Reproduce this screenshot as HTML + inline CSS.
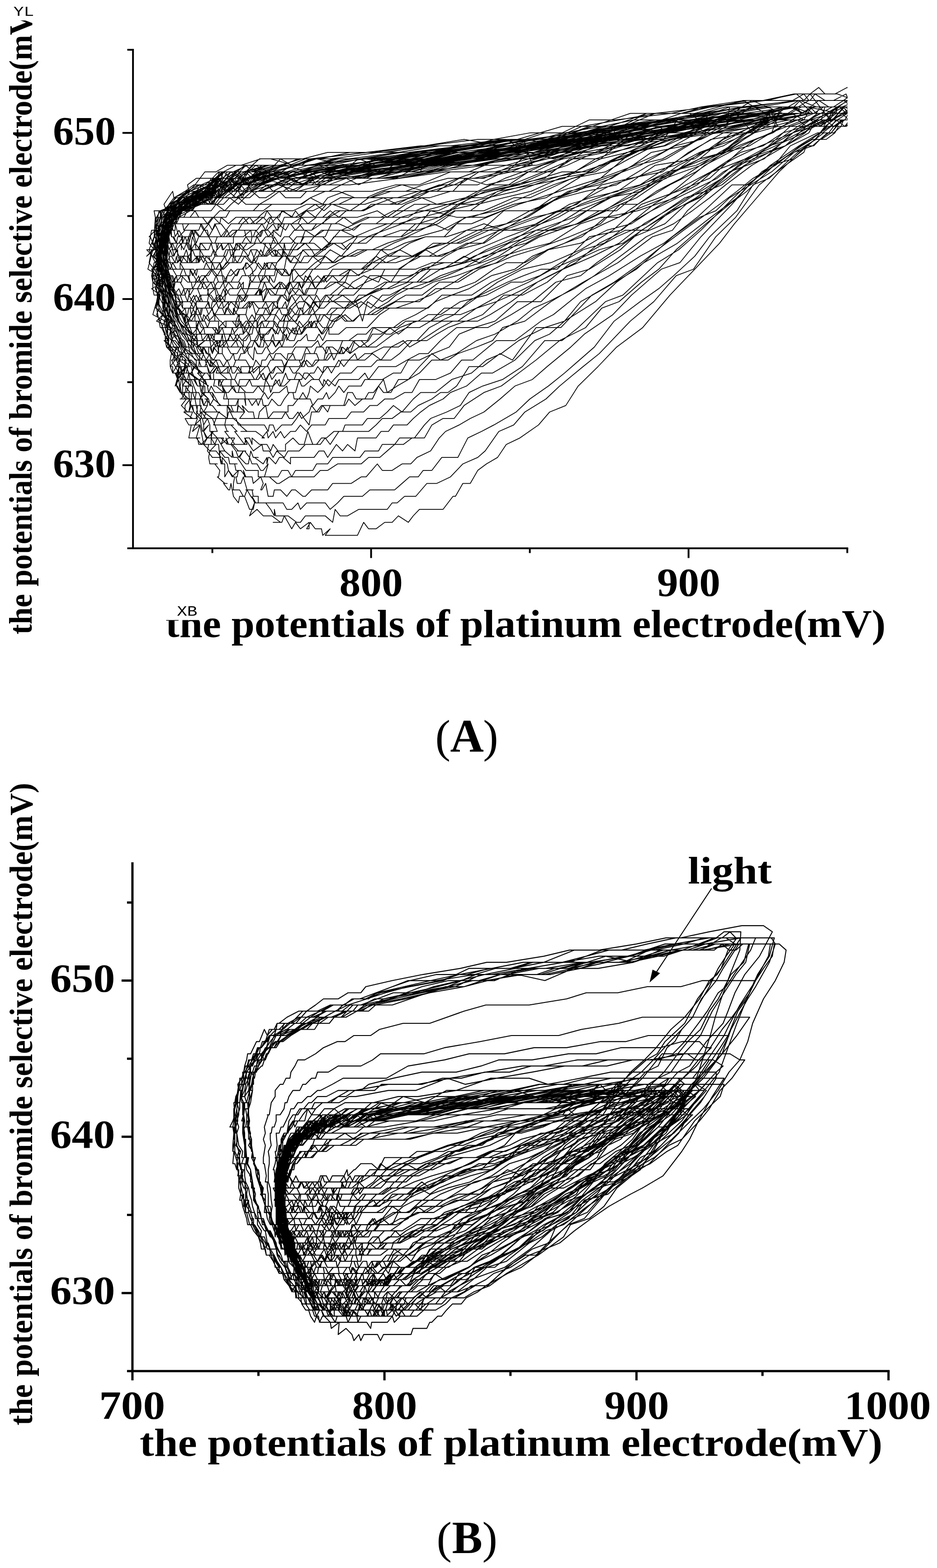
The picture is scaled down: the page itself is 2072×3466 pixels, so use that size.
<!DOCTYPE html>
<html lang="en"><head><meta charset="utf-8"><title>Figure</title>
<style>html,body{margin:0;padding:0;background:#fff}svg{display:block}</style></head>
<body>
<svg width="2072" height="3466" viewBox="0 0 2072 3466" role="img" aria-label="Phase portraits (A) and (B)">
<rect width="2072" height="3466" fill="#fff"/>
<defs>
<clipPath id="ca"><rect x="294.1" y="110.1" width="1580.1" height="1101.9"/></clipPath>
<clipPath id="cb"><rect x="292.9" y="1908.6" width="1671.9" height="1122.2"/></clipPath>
</defs>
<g clip-path="url(#ca)"><path transform="matrix(2.74219,0,0,-14.34766,-4795.400,24168.250)" d="M2442 1668h-7h-10l-4-1h-9h-7h-7h-6h-24l-30-1h-18l-38-1l-17-1l-24-1l-23-1h-18l-33-1l-22-1l-38-1h-22l-46-1h-34h-9l-16-1h-10l-14-1h-3h-4h-8h-5h-3h-8l-3-1h-14l-6-1h-5h1l-6-1h-1l-9-1h-4v-1h-4l3-2h-2h1l-1-1l-3-2h-5l10-2v-2h-6l7-2l-2-1v-1l1-1l-2-1l3-1l2-1l2-1h-1l4-1l-2-1h2l2-1l-1-1v-1h2v-1h2h2v-1l-1-1h1l2-1l-3 1l7-2h2h-1l-4-1l5-1h-3l7-1h-6l3-1h5h-3l-2-2h5h4h-2l1-1h4l5-1l-1-1l1-1h6h-3h1l4-1l-1-1h-1l6-1h2h-3l4-1h1l1 1l1-1l1-1l4-1l1 1h4l4-2h3l1 1l-4-2l6 1l5-1h4h-1h4l7-1h-6h7l2 1l3-1l3-1l3 1l4-1l7 1v-1h-2l3 1l4-1h5h-3h3l1-1l6 1l-4-1h5h-1h5h5h7h5l5 2l4-1h6l7 1h6l5 1l8-1l4 1l5 1h7h7h5l8 2h2l6 2h6l6 2l7 1l9 1l7 2l11 1l15 2l9 2l13 1l10 3l16 3l15 3l21 3l22 5l20 4l20 4l12 3l18 4l18 4l22 4h6l5 1l7 1l4 1l8 1h6l7 1l10 1l-11-2h-3h-8h-2l-7-1l-7 1h-7l-5-1h-10h-30l-41-1l-43-1l-27-1l-17-1h-25l-19-1l-42-2h-39l-38-1l-40-1h-22l-20-1l-16 1l-15-1h-9l-9-1h-6h-8l-4-1h-12h-7l-9-1l-5 1l-3-1h-8l-3-1l-1-1l1-1h-4l-2-2l4-1l-6-1l5 1l-4-3l9-1l4-1l-10-1l7-1l-3-2l1-1l2-2h4l2-1l-2-1l1-1l5-1l2-1l-4-1l2-1l3 1h3l-3-1l1-1l-2 1l5-1l-1-1l1-1l6-1h1l-4-1v-1h6l-2-1h1h5l-4-2l6 1l-3-2l4-1l5 1l-3-1h2h2l-1-1l4-1h6l1-1h3v-2l3 1l4-1h1l-1-1v-1h-1h6l3-1h1l2 1l3-1l4-1l-3 1l2-1h3h6l4-1l3-1v1l1-1h3h7h-2h2l7-1h3l4 1h4h6h6l6-1l2 2l4-1h6l9 1h3h6h8h6l4 1h4l6 1h9l9 2h8l11 1l10 2l12 1l6 1l11 3l12 1l9 2l17 2l11 2l19 3l13 2l25 5l19 3l18 4l14 1l18 5l16 3l19 5l21 3l15 2l2 1l7 1h4l6 1h5l6 1l2 1h10h5l8 2h-12l-8-1h-4h-6h-10h-7h-9h-8l-26-1l-22-1h-44l-34-2l-28-1h-17l-34-1h-22l-22-1l-26-1h-36l-41-1l-25-1h-19l-13-1l-19 1l-12-1h-4l-7-1h-5h-9l-13-1h-5l-8-1h-5l-12-1l2-1h-8v-1l1-2l-2-2h2l-3-1l7-1l-7-1v-3l1-1h4l-2-2l5-1l-2-1l4-2v-1l5-1h-4h1l6-1l-2-1h3l2-1l-1-1h-2h3l-3-2l3 1l1-2h1h2l2-1h-5h9l-2-2l2 1l2-1l5-1h1l-5-1h4l1-1l2-2h3h1h6l-5-1h3h2l4-1h-1l2-1v1l4-1l1-1l3-1l5 1l-1-1h-1l1-1h3l2 1l3-2h-1h6h-1l1-1h4v-1h9h1h3h-1h8l3-1h4l5 1l2-1l5 1h7h3h5l4-1l6 1l5 1h6h3h6l6 1h6h9h5l6 1l6 1h7l4 1h7l8 2h13l8 3l11 1l10 1l18 2l11 2l15 2l13 2l24 4l16 4l21 3l15 2l12 2l17 3l12 3l22 4l13 4l13 1l23 4l21 3h6l8 2h5l8 2l8-1l4 1l-13 2l-7 1l-10-1h-7h-10h-8h-8l-21-1h-19l-35-1l-24-1l-45-1h-21l-22-2h-26l-29-1l-19-1h-31l-39-1h-27l-24-1h-8h-10l-12-1h-12h-8h-9l-10-1h-3h-7l-6-1h-12h-3l-7-1l1-1l-12-1l-1 1l-7-2l2-1h-10l1-1l-1-3l5-1l-2-1v-2l-4-1h6l-5-2l3-1h2l-1-2v-1l3-1l-5-1l12-1l-3-2l1-1h6l-2-1l2-1l1 1l2-2h-4h8l-3-1l-3-1l4 1l3-1l-3-1h3l-1-1l-3-1h5h1l2-1h5l-1-2l4 1v-1h-1l1-1l1-1l5 1l-4-1l2-1h4v-1h6h-4h4l1-2v1l4-1h2h1l1-1h6h-2l1-1h4l4-1l-2 1l1-1h6l1-1l6 1l2-1l-2-1h1l3 1l2-2h4l1 1h5l5-1l4 1h3l6-1h2l5 1h5h8l4 1h6h4h5l8 1h4l9 2l4-1h8l8 1h7l5 1l11 1l7 2l5 1l11 1l9 1l11 1l13 2l12 2l14 1l12 2l19 3l11 2l23 3l15 3l24 4l15 1l17 4l25 5l14 3l17 3l23 3l25 3l6 1l8 1h8l9 1h3h-11h-4l-6-1l-5 1l-9-1h-10l-5 1l-4-1h-5l-31-1l-25-1h-36l-23-1l-44-1l-43-2h-16h-27l-34-1l-34-1l-39-1l-32-1h-9h-10l-16 1l-19-1h-8l-3-1h-5l-7-1h-4h-7l-10-1h-11h-7h-3l-7-2h-4l-1-1l-4-2l-1-1l-4-2l5-2h-1l-2-2l1-1l5-1l-2-2l-3-2l10-1l-3-1l5-2l2-1l1 1l-1-1l1-1l5-1h-5l6-2v1v-1l-1-1l4 1v-1v-1h2h-2v-1h5l1-2h2l1-1l-2 1h4l1-1h-1l5-1l1-1v-1l3-1l5 1h-2v-1l3-1l2 1l6-2h-4h4l6-1v1l1-1h1h2l7-2h3h-2h5h1h3v-1h5h1h3l6-1h2l8 1h3h3h2h4h6h2l5 1h3h3l8 1h7h5h7l6 1h3h6l6 1l6 1h7l7 1h10l6 2l9 1h9l8 2l16 2l14 1l14 2l14 2l19 3l21 2l13 3l14 1l18 3l14 2l14 3l24 4l19 3l14 2l22 4l13 3l22 2h4l7 1l4 1l7-1l4 1l9 1l9 1l-12-1h-9l-12-1l-4 1h-7l-7-1h-10h-24l-44-2h-21l-19-1h-23l-45-1l-38-2h-27l-39-1l-20-1l-35-1h-21h-33l-10-1l-7 1l-8-1h-18l-8-1h-4h-8h-8l-7-1h-12l-7-1h-2l-11-1h-8h-7l-2-2v-3h-4l5-1l3-2l-3-1l2-2l-2-1l5-1v-1l-1-2l7-1l-5-1h4l2-2l4-1l-3-1l5-1l-2-1h1v-1l6 1l-2-1v-1l6-1h-5l4-1h2l2-1h4v-1l3-1h-2l4-1h-3l1-1l3 1l2-1v-1h1l5-1h2h-1h2l5-1l-1 1l2-1h2l4-1l2-1l4 1l-3-1l5-1h2l1 1l2-1h3h1l3-1h2l4 1l-3-2h5h2h4l3 1h5l3-1l3 1h5h4h5l3 1h6h3l4 1h4h8h7h3l4 1h4h7l3 1h3h7l4 1h4h8l8 2l5 1l13 1l11 1l7 2l11 1l16 1l16 2l18 4h14l13 2l22 4l14 1l28 5l17 2l18 3l21 4l16 3l15 2l14 2l15 2l9 1h7l8 1l9 2h9h4h8l3 2l-13-1l-9 1l-5-1h-5h-12h-6h-10h-5h-22l-28-1l-35-2l-30-1h-37l-35-2l-22-1h-38l-23-1h-20l-46-1l-18-1h-29l-9-1l-14 1h-12l-12-1h-8h-5l-3-1h-9h-4h-7l-8-1l-11-1h-11l-13-1l1-1v-1l-10-2h1l4-2h-3l-2-2l8-2l-3-2l3-1l-3-2h1l9-2v-2l1-1h-4l11-2l1-1l-2-1h4v-1h-2l3-1h-2h7v-1l-2-1h4v-1h3l1-1h4l-1-1h5l-2-1h1h6l4-2h-4l-1-1h8h2l-2-1l6 1h2l3-1h-2l5-1h-1h7h-1l4-1l1 1l2-1h4h-3l7-1l3 1v-1l1 1h1l5-1l3 1h3l6-1v1h5h4h5h5l4 1h4l3-1l7 2l5-1l4 1l6-1l2 2h4h4h7l4 1h6l4 1h5h6l5 1l6 1l7 1l11 1l6 1l13 1l12 2h9l18 2l16 3l12 1l12 2l25 3l17 3l22 3l27 3l27 4l21 3l20 4l17 2l27 3l3 1l6 1h6l8 1l3 1l8-1h6l5 2l-11 1l-9-1h-7h-4h-11l-3-1h-8h-6h-37l-45-1l-21-2h-23l-32-1l-42-1l-30-1l-40-1l-44-1l-46-1h-16h-13h-14l-14-1h-18h-9l-9-1h-5h-8h-4l-7-1l-7-1h-14l-10-1l-3-1l-3-1v-1l-3-1v-2l-3-2l4-1l3-2l-3-1l-3-1l5-2l3-1l2-1l-3-1l2-2l4-1l2-1h4l-2-2l3 1v-1h4l-1-2h2h-1h3l2-2l-5 1l5-1h1v-1h4h1l4-2h3l-3-1h2h4h1h5l-4-2h5h-2h6l2-1h-1h2h-3l4-1h4l-3-1h7h3h3l-2 1l7-2l7 1l1-1h4h-1h2l3-1l3 1l6-1l3 1h3h6l5 1h3h4h5l4 1l4-1l7 2h6h6h7h5l6 1l5 1h8l7 1h8l6 1l11 1l7 1h6l7 1l10 3h11l14 2l10-1l19 5h20l25 5l18 2l22 3l13 2l21 3l22 3l21 3l13 2l18 2l20 3l9 1l7 1l4 1l7 1l7 1l5-1l6 1h9l4 1l-11-2h-7h-5h-7h-9h-5l-9-1l-7 1l-42-2h-22l-38-1l-41-1l-31-1l-37-2h-41l-40-1l-30-1h-42l-42-1h-17l-9-1h-20l-4-1h-7l-5-1h-13l-9 1l-11-2h-6l-5-2l-4-1l-3-1l-1-1l3-1l2-3l-1-2l-2-1h1l1-2l5-2l2-1l1-2l1-2h2l2-1l5-1h-1l2-2l4 1l-4-1h6l-1-1h5h-7h5l2-1l2-1l-1-1h6l1-1l3 1v-1l-3-1l7-1h3h-1h4h5l-1-1h7h-2l5-1h-2l4-1l4-1l1 1h3l2-1v1l6-1h2h4l3-1l2 1l4-1h6v1l6 1l5-1h4l3 2l4-2h3l4 1h4l6 1h3h4l2 1h7h7l4 1h7h3l6 1l5 1l7-1l9 2l6 1h12l13 2l16 1l12 2l12 1l14 2l21 2l16 1l13 3l19 2l26 3l29 5l22 3l13 1l11 2l17 2l17 2l18 3l15 1l6 1h5l7 1l3 1h6l10 1h8l3 2l-10-1h-9h-10h-8h-5l-9-1h-4l-10 1l-26-1l-16-1l-43-1h-29l-39-2l-39-2l-20 1l-18-1l-27-1l-40-1l-32-1h-20h-28h-16h-7l-15-1h-15l-7-1h-7h-7h-4l-7-1l-4 1l-4-2l-12 1h-5l-7-2l-7-1h-5l-1-1v-1l-2-1l1-2l-2-2h-1l-1-3l6-1l-1-1v-2l2-1l3-1l2-3h3l4-1h-2l2-1l5-1h-2l5-1h-2l-1-1h5l2-1l2-1h2h4v-1l-4-1l2 1l5-1h-3h1l4-1h1l4-1h2h-1l7-1h-2h9h-2l6-1h-1l6-1h-5h8h2h2l7-1h-2l4 1l1-1l4 1l2-1l4 1l3-1l5 1h4l4 1l5-1l4 1h2h5h4l3 1h6h1h7l4 1h6h4l5 1h6l6 1h7l9 1h6l6 2h5h8l12 1l9 2h9l19 3h15l21 3l10 1l26 4l19 2l25 3l19 2l27 4l28 5h13l19 3l17 1l18 3l9 2h5h5h5l8 1h6l8 2l-13 1h-6l-2 1l-10-1h-7l-8 1l-4-1h-9l-46-1l-25-1h-24l-31-2h-32l-34-2h-37l-24-1l-31-1l-25-1h-36h-16l-32-1h-15h-19l-19-1h-8l-5-1h-6h-3h-4l-7-1h-9l-7-1l-9-1l-4-1l-3-2l-4-2l-3-1l1-2l3-2l-8-1l5-3h2l4-1l-1-2l4-3h2l5-2l4-2h-1l1-1h3l-1-1h1l2-1l7-1h-3l3-1h3l-2 1l2-2l1 1l-1-1l6-1l1-1l3 1l6-1h-3h8v-2l1 1h3l-4 1l5-2h2l2-1h2h3h6h3h1h2h4l3-1l1 1h3l2-1l5 1h4h4l4 1l3 1l3-1l4-1l2 2h6l3 1l4-1l2 1h3h4h5l3 1l5-1l6 1h4h4l5 2l4-1h6l6 2h8l9 1l10 2h13l8 1l15 1l13 1l8 2l18 1l21 3l26 3l28 3l28 4l16 1l12 3l18 3l28 4l20 2l14 2l30 3h6l9 1l8 1h6h10l-13 1h-9h-8h-11h-10h-8l-31-1l-33-1l-23-1h-29l-33-1l-27-1l-43-1l-28-1l-42-1l-39-1l-43-1h-32h-10l-19-1h-18h-4l-5-1h-8h-7l-5-2h-14l-7-1l-8-2l-2-1h-6l-4-2l2-2v-3l-3-1l4-2l4-2l2-1v-2l1-2l7-1l-3-1l2-1l7-1l-3-1l7-1l2 1l2-2h-2l7-1h-3h-1h8v-1l-1-1h5h3h-2l3-1l-1 1l6-2h3h4h1h1l2-1h-1h8h2l-4-1h7h2h3h2h3h4h2h3h4h4l3 1l3-1h3l4 1l3-1l6 1l2 1l4-1l4 1h3h4h3h5h3l3 2h4l3-1h3h4l3 1h4l8 2l3-2l8 1l9 1l9 2l10 2l7-1l13 1l16 2l15 1l18 2l13 2l12 1l21 2l16 2l28 4l14 2l22 2l15 2l14 2l13 2l21 3l27 3l19 2l6 2l3-1l8 1l3 1h7l8 1h4h12l-11 2h-5l-7-1h-6h-5h-8h-5h-5h-5h-5l-37-1l-41-1l-27-1l-37-1h-24l-29-2l-22-1h-29l-33-1h-38l-34-1h-21l-19-1h-9h-18l-19-1l-6 1l-5-1h-5h-9l-4-1l-5-1h-5l-12-1l-7-1l-8-2l-7-1l-4-2l3-1l-1-2l-4-2l5-1l-3-2l5-1l4-2l-2-1l2-2h5l-1-2l8-1l2-1l-3-1l5-1h-1l5-1l-2-1l3 1l6-1h-4l5-1h-4l8-1h-1l1-1l2 1l3-1h8l-1-1h4v-1h6l2 1l-1-2l1 1l5-1l-2 1l5-1h4l1-1h3l1 1l5 1l2-2l4 1h5h4h3v1h4l4 1h4h3h3l2-1l4 1h4l3 1l2-1l5 1l3 1l4-1l4 1h5h5l3 1h5h4h5l9 1h6l6 2h9l11 1l13 1l8 2l13 1h10l19 2l17 2l19 3l20 1l13 2l30 4l25 2l17 3l19 2l23 4l13 1l29 5l32 2l7 1l7 1l20-1h-22h-5h-6h-7h-6h-4h-7l-9-1h-27l-27-1l-41-2h-44l-24-1h-22l-45-2l-39-1h-30l-30-1h-16l-23-1h-6h-16h-19l-18-1h-13l-6-1l-4 1l-6-1h-8l-4-2l-10 1l-8-1l-9-1l-8-2l-2-2l-3-2l-1-3h1l2-2v-3l5-2v-1l7-2h-1l7-3h-3l3-1l3-1h2l5-1h-4l8-1h2l-4-1h5h-1h8l-1-1h2l6-1l-1 1l3-1l1-1h5h1h2h2h1h3h3l3-1l4 1h1h3l1-1h4l3 1l5-1h2l3 1l4 1h3l1-1h4l3 1l3-1l2 1l1 1l6-1l5 1l3 1l6-1l3 1h4h1h6h2h3l5 1l3-1l8 2h7h7l9 1l10 1h7l10 2l13 2h14l17 1l18 3h19l21 4l18 1l25 3l17 3l17 2l27 3l21 3l22 3l17 2l18 2l22 2l7 1l7 1h8h20h-22h-5h-8l-8 1l-7-1h-9l-30-1l-31-1l-46-2l-28 1l-34-1l-41-2l-24-1h-17h-34l-22-1l-47-1l-45-1h-9h-18l-18-2h-8h-2h-8l-7 1l-4-2h-7l-9-1h-6h-7l-11-2l-3-2l-3-3l1-2l5-2l-2-2l3-3l1-1l5-2l1-1l4-1l5-2l1-1h3l6-1v-1l3-1l6-2l-2 1h5h6v-1l1 1l2-1l2-1h3l4 1l2-1h7l1-2l-1 1h2h3h2h2l2-1l2 1l3 1l3-1l4 1h3h2l6 1l1-1h6l3 2l2-1h2l6 1h1h5l3-1l1 1l4-1l4 1l5 1h3h4h2l5 1h5h6l5 1h4h7l7 1l10 2h7h5l8 1l9 1l14 1h10l10 1l17 2l21 3l21 2l24 2l21 2l20 3l18 2l26 3l20 3l30 3l30 4l28 3h8l12 1h-4h-3l-9-1h-10h-8h-9h-8l-28-1h-15l-31-2l-26 1l-36-1l-46-2h-15l-20-1h-20l-21-1l-26-1l-28-1h-23h-30l-35-1h-13h-20l-7-1h-7h-7h-6h-6l-12-2l-8-1h-8l-7-1l-8-2l-3-2l-2-3l1-2l-2-2l5-1l2-2v-2l3-2l4-2l8-2l5-1v-1l6-1h1l1-1h3h4l3-1l-1 1v-1h11l-3-1h4h4h1l4-1h2l1 1l5-1h2h2h2l4 1l4-1l2 2l3-1l1-1l2 1l2 1l3-1h4l5 1h2h7l2 1h3l5-1h4l3 1l4 1l3-1l6 2l4-1l4 1h3h2h4h4l6 1l7-1l8 2l10 1l5-1l9 1l8 1l8 1l10 1h11l13 1l17 3h15l20 2l19 3l23 2l19 1l23 3l31 4l26 3l20 3l23 2l23 2l6 1l12 1l6 1l4 1h9l7 1l11-1h-16h-5h-6h-8h-6h-5l-11-1l-4 1h-26l-28-1l-17-1l-39-1h-25l-36-2h-24l-38-2h-34l-19-1l-25-1h-40h-35l-13-1h-17l-18-1l-8 1l-3-1l-5-1h-6l-3 1l-5-1h-9l-3-1l-11-1l-12-1l-8-1l-3-2l-3-2l1-1l-1-1l-1-2l2-2v-1l3-3l3-1l1-1l5-2l6-1l3-1l2-2h3h5l-1-2h7l1-1h3l4 1l-3-1v-1h6h-2h6h4v-1h4h2h4h2l3 1l2-1h3h2h6h1h4h1l5 1l1-1l4 2l2-1h5l2 1h2l5-1l4 1h3l3 1l4-1l1 1h5h2h5l2 1h2h4l5 1l2-1l6 1h5l10 1h3h9l7 1h8l10 2l10 1h13l15 2l16 1l12 1l11 1l20 2l21 2l19 3l21 2h18l19 3l23 2l24 4l28 2l23 4l32 2l9 2l4-1h4l15 1l-28 2h-10l-5 1l-7-1h-8h-5l-25-1l-47-1l-19-1h-41l-46-3h-23l-16-1h-38l-42-1l-31-1h-16l-44-1l-15-1l-19 1h-9l-6-1h-6h-8h-3h-3l-9-1h-2h-7l-8-2l-5-1l-7-1l-7-1l-6-2l-2-3l-5-3h1l2-3v-1l3-3l5-2l5-2l4-2l2-1l8-1h-1l3-1h6h1h1l4-2l4 1h1l3-1l6-1h2h2h2l3-1l1 1h6h1h3h4h1l4 1l2-1l3 1l2-1l4 1h5l1 1h3h5h1h3l4 1l3-1h3l3 1h3h3h4l4 1h3h2l3 1l6-1l4 2h5l5-1l7 1l6 1l5 1l7-1l13 2h10h11l11 1l11 2l9 1l15 2l20 2l23 1l24 2l26 3l23 4l29 2l26 2l23 4l14 2l14 1l31 4h8h7h3l8 1l7-1h-12l-7-1h-3h-10h-7h-7h-36l-43-1l-39-2l-18-1h-27l-37-1l-30-1h-20l-34-1l-41-1l-34-1h-33l-20-1h-12h-7h-16l-7-1l-5-1l-6 1l-5-1h-4l-14-1l-10-1l-7-2l-7-1l-1-2v-3v-3l1-2l5-2l2-3l5-1l5-3h3h4l4-1l3-1l2-1h3l2 1l2-1h2h5l-2-1h7h2h-5h7l2-1h2l2 1h3h3h5l3-1h1l3 1l3-1h3l2 1h3l2 1h1l5-1l2 1h3l3-1h2l4 1h3l2 1l5-1l5 1h5l3 1h3h5h4l3 1l2-1l7 1h5h6h3l7 1l7 1l11 1h10l9 1l11 1h13l13 1l19 2l23 2l19 2l24 2l28 3l24 2l31 4l17 1l13 1l25 4l26 2l17 3h10h4l6 2l10 1l7-2l16 2h-29h-10l-8-1h-8l-10 1l-38-1l-45-1l-31-1l-22-1l-39-1l-34-1l-46-1l-39-2h-19h-44l-18-1h-13h-10l-8-1h-9h-11h-12h-6h-9l-3-1h-9l-5-1h-11l-11-2l-6-2l-3-2h-5l-1-2l-1-2l3-2l2-3l3-1l3-2l5-3l5-2h5v-1l2-1l5-1h3l4-1l-1 1l5-1h-4l4 1l4-2l6 1l-1-1h1l2 1l1-1h2l3 1l3-1h1h4l2 1h1l1-1l5 1v-1l5 1h2l2-1l4 1h1h3h4l2 1h2h4h3l2-1l2 1l1 1h4h5l2-1h4l2 2h5l6-1l1 1l1-1l6 1l3 1h5h6l5 2l10-1h4l7 1l14 1h11l11 2h14l15 2l22 2l13 1l14 1h13l26 5l26 1l26 4l26 3l20 2l24 3l18 1l16 2l18 1l9 1l8 1h8l1 1l-9-1h-8h-12h-6l-21-1h-44l-42-2l-32-1l-41-1l-30-1l-38-1h-16l-31-1h-17l-33-1h-35l-21-1h-21l-9-1h-9h-9l-6-1h-3h-7l-8-1l-11-1l-12-1h-6l-6-2l-3-2v-1v-3l2-2l4-3l2-2l5-3l4-1l8-2v1l4-1l2-1h4l-2-1h3h4l3-1h2h5h4h2h3h1h1l4-1v1h5h2v-1l6 1h3h2h3l3 1h4h3h2l2-1l3 1l4 1l2-1h2h3l4 2l3-1h3l2 1h5l3-1l2 1l4-2l5 2l2 1h4h4l6-1l7 1l3 1h7l8 1h5l7 1h10l8 1h10l16 2l21 1l20 2h9l14 1l17 2l18 2l17 1l20 3l18 2l21 2l32 3l13 2l29 3l17 1l30 3l7 1h4l25 1h-42h-3l-13 1l-5-1l-28-1h-31l-36-1l-22-1l-40-1l-15-1l-20-1l-23 1l-22-1l-20-1l-31-1l-42-1l-37-1l-12 1l-18-1h-14h-14l-12-2l-5 1h-4l-7-1l-4 1l-7-1l-9-2l-10 1l-10-1l-5-1l-7-2l-3-3l-4-1l2-3l2-2l2-2l2-3l6-2l5-2h4l7-1l1-1l4-1l-2 1l5-2l3 1l1-1h5h2l3-1l3 1l2-1h3l2 1h2h5h1l3-1h3l2 1l4-1l1 1h3l3 1l3-1l2 1h4l5-1l1 1h3l3 1h4h4h1h4l5 1l2-1l5 1h4h5h2h5h2l7 1h7l5 1h5h12l7 1l11 1l9 1l7 1l13 1l14 1l18 2l19 1l14 2l26 2l32 3l23 2l26 2l32 5l30 3l23 2l27 2l6 2h6h5l-3-2h-9h-6h-5h-44l-34-2l-47-1l-35-1l-28-1l-41-1l-27-1h-21l-18-1h-25l-39-1h-27l-15-1h-11h-9h-20l-6-2l-3 1h-6h-6l-6-1l-5-1h-9l-7-1l-9-1l-9-2l-3-3v-1l2-3l2-3l6-3l1-1l6-1l3-2l10-1h1v-1l1 1l3-1l5-1l3 1h1h3l3-1h3l3 1l1-1h3l2 1h2l3 1l1-1l4-1l1 2l2-1h4l3 1h1l3-1h2l5 1h2h4h4h1l4 1h2l5 1l1-1h4h2l3 1l3-1l5 2v-1h5h3l6 1h4h4h3h6l10 2l8 1h9h7h7h8l11 2h11h13l16 2l22 2l24 3l26 1l21 2l20 1l24 3l29 3l12 2l27 2l16 1l16 1l16 2l5 1h6l9 1l-16 4l-5-1l-6 1l-25-1l-44-1l-23-1h-29l-14-1l-16-1h-22h-16l-36-2l-45-1h-18l-33-1l-40-1h-35l-13-1h-14h-8h-8l-5-1h-7h-3h-7l-8-1l-5-1l-6-1h-9l-7-2l-7-2h-4l-3-3l-1-1l-1-2v-1l5-3l1-2l4-2l4-2l6-2l3-1l3-1h-2l4-1h6l-3 1h3l2-1h2v1h2l1-1l4 2l1-2h3v1h3h1l3-1h1h4l3 1h1l2-1l4 1h2l2 1l3-1h4l1 1l3-1l3 1l3-1l4 1h2l1 1l4-1h4l2 1l2 1l2-1l4 1h2l4 1l3-1l3-1l3 1h5l3 1l5 1l5-1h4l6 1h7h2l9 1l10 1l9 1h13l14 2h15l17 2l14 1l16 2l19 2l30 2l18 2h14l32 5l26 2l27 2l19 3l17 2l26 3l11-2h-9l-6 1l-45-2l-33-1l-41-1l-35-1l-26-1h-19h-38l-37-2l-23-1h-41l-20-1h-23l-21-1h-20h-22l-4-2l-10 1h-6h-2l-3-1l-7-1l-8-1l-9-1l-9-2l-5-1l-2-3l2-1v-3l3-2l3-1l4-4l6-1l3-2h3h2h8l-7-1h5h-2h5h1h2l2-1l1 1l4-1v1h4h3h3h1h3h3h2h3h2h3l2 1l4-1l3 2l1-1h3h2h2l2-1l3 1l2-1l4 2v-1l5 2l2-1h3h1l4 1h3h5h2l4-1l4 1l4 1h3l7 1l6-1l6 1h6l7 1h10h6l15 1l13 1l19 2l16 2l19 1l12 1l17 1l29 2l25 2l16 3h14l26 3l21 2l23 3l20 1l26 3l26 2h18h-9h-5h-4h-7h-7l-42-1l-43-1l-46-2h-17l-40-1l-35-1l-22-1h-19l-30-1l-29-1l-47-1h-19h-8h-21l-15-1h-9h-3h-6l-6-1h-8h-5l-2-2h-13l-5-1h-5l-9-2l-1-1l-3-2l-1-2l2-2v-2l5-3l3-1l3-1l7-3h2h1l3-1v-1l6 1h3h2h1l3-1l3 1v-1l5 1l2-1h2l4 1l2-1h1h6l3 1h2h3l2 1l3-1h3h3l2 1l1-1h2h4l2 2h2l2-1l5 1l2-1h3l2 1l6 1v-1h3l2 1l4-1h3l4 2h6l5-1h7l5 1h6h7l7 1l9 1h12h7l13 2h18l14 1l15 2l10 1h15l18 2l28 2l19 3l26 1l15 1l15 1l21 3l26 3l22 2l26 2l14 2l9-1h4l10 2l-25 1h-8l-33-1h-20l-23-1h-26l-42-2l-28-1l-43-1l-30-1l-33-1l-32-1h-45l-20-1h-9h-8h-8h-10l-15-1h-15l-5 1l-5-1h-4h-2l-10-1l-5-1l-3-1l-11-1h-10l-11-1l-2-3l-2-1l-2-1v-2l3-3l1-1l3-2l3-2l5-2l9-2h1h2l1-1h2h2h3l2 1l2-2l4 1l2-1l2 1l1 1l1-2l3 1h3h3h2h2l3-1v1h2l3 1l1-1h3l3 1l1 1l1-2l4 1l5 1l5-1l2 1h3h3l5-1l2 1l2 1l4-1h3l1 1l2-1l2 1h5l3 1l6-1l8 1l4 1l8 1l5-3l4 3l8-1l9 1l6 1l10 1h10l10 1l19 1l14 1l23 2l17 1l21 1l25 3l16 1h15l30 4l20 2l31 4l18 2l29 3l27 1l-15 1h-26l-34-1l-43-1l-41-2h-17l-30-1l-21-1l-32-1l-44-1h-21l-42-1l-41-1l-18 1l-18-1l-13-1h-5l-7 1l-7-1l-7-1l-2-1h-9l-9-2h-6l-7-1l-2-2l-5-2l-2-3v-1l1-2l4-2l3-2l5-3l6-1l4-1l1-1l2 1h2v1l4-1l1-1l4 1l2-1l2 1l2-1h3h2h3h3l1 1l3-1l3 1l4-1l5 1h3l1 1h2l2-1h4h1h3l3 1l3-1l2 1h1l3-1l3 1l1 1h5l5-1h1l5 1l3 1h2h3h2h5h3l6 1h3h7l9 1l8-1l9 2h6l10 1l9 1h13l14 1l12 1l18 2l17 1l25 3h17l16 1l22 2l25 3l25 2l28 4l18 1l18 2l24 2l12 1l-28-1l-39-1l-35-1l-26-1l-34-1l-32-1l-30-1h-21l-40-1l-42-1l-22-1l-23 1h-9l-12-1h-10l-14-1h-13l-9-1l-4 1l-3-1l-6 1l-7-1h-6l-5-1h-6l-11-1l-6-1l-7-1l-5-1l-4-2l-1-1l1-4l2-1l3-2l1-2l6-2l8-2h2h1l3-1l2-1l3 1h1h3h2h4l3-1l2 2l2-1l3 1l3-2h1l3 1l1 1l4-2l2 1h3l1 1l3-1l2 1h4l2-1l3 2l2-1h3h4l1 1l4-1h3l1 1h3h2h3h1l4 1h4h3l3 1l4-2l2 1h5l4 1h11l4 1l7-1l10 2l9-1l9 1l7 1h6l15 1l10 1l15 1l18 1l14 1l16 2l25 2l23 1l34 3l13 1l23 3l29 2l30 3l27 2l8 4l-16-1h-25l-42-2h-32l-41-2l-20-1h-26h-17l-31-1l-22-1l-26-1l-23 1l-21-1h-31l-17-1h-9h-12l-18-1h-4h-5h-2h-3l-7-1h-7h-2l1-1l-13-1l-7-2h-9l-8-2v-2l-2-2l1-2l-1-1l3-2l1-2l5-2l7-1l-1-1l3-1h2l2-1l4 1l2-1l3 1l1-1h3h2h3h5h4h2h2h2l4 1h2h3h2h1h2h3h3h2h1h3l3 1h3l3-1l2 1h3l3 1l2-1l4 1h3h2h3h3l4 2l5-1l1 1h4h6h1l8-1l8 1l4 1h7l13 1h6l14 1h9l17 2l20 1l17 1l18 2l17 1l23 2l17 2h19l31 3l30 4l30 3l29 3l29 2l17 2l-4 1l-9-1h-17h-19l-29-1l-46-1l-25-2l-31-1l-34-1h-31l-44-1h-24l-44-1l-45-1l-13-1h-13h-15h-5h-5l-11-1h-7l-7-1l-7-1h-7l-10-1l-9-2l-7-2l-2-2l-3-1l-1-2l2-2v-2l3-2l4-2l3-2l4-1h-1l4-1h1l3 1l2-1h2h1h3l1 1l2-1h2h2h4h1l4-1l1 1h3h3h3h1h3h2l3 1l2-2l4 1l1 1l4-1h2l4 1h1h3h5l2 1l4-1h3l1 1h2l5-1h2l3 2l3-1h3h4l5 1h4l5 1h6h5h5h3l11 1l10 1l6 1h16l13 2h13l20 1l18 2l25 2l15 1l31 2l29 3l29 2l23 2l20 2l19 1l26 4l24 2h14l-10 1l-32-2h-27h-33l-44-2l-33-2h-38l-26-1l-30-1l-35-1h-25h-33l-20-1h-10h-20l-13-1h-20l-8-1l-4 1l-6-1h-5l-4-1h1l-10-1l-11-1l-10-2l-6-2l-1-2l1-1l-1-3l2-2l3-1l6-4h1h1h2l1-2l2 1h2l3 1v-1h4l3-1h2h1h4h3l2-1l1 1h2h2h3h3h3v1h3l4-1l3 1h1h6v-1l1 1l3 1l3-1l4 1h1h3l3 1l2-1h3h2l2 1l4-1l3 1h3v-1l5 1l4 1l4-1l6 2l5-1l8 1l7-1h4l8 1l9 1h8l10 1h14l11 2h10l17 2l12-1l18 2l20 1l18 2l16 1l15 2l17 2l27 1l17 2l30 3l21 1l22 3l14 2l33 1l-24-1h-19l-37-1l-47-1h-27l-21-1l-20-2h-38l-17-1h-26l-40-1l-38-1h-24l-27-1h-9h-15l-14-1l-8-1l-7 2l-3-1h-4l-7-1h-4h-5l-2-1l-13-1l-7-1l-11-1l-5-2l-3-3l2-2v-2l1-1l3-2l6-2l1-1l4 1l1-1l4-1h4v-1l2 1h4h1l2-1l2 1h2h2v1l4-1h1l4-1v1h4h4l2 1l2-2l4 1h1l3-1l3 1l1 1h3h3h5h3h2l4-1l3 1h2l2 1l5 1l2-1h4l2 1l6-1l3 1h4h5l5 1h7h9l5 1h5h6l9 1h10l12 1l7 1l19 1h14l10 1l27 2l27 3l14 1l18 2l28 2l20 1l26 2l22 2l19 3l24 2l14 2l-40-1h-18l-32-2h-19l-40-1l-18-1l-36-1h-17l-42-1l-27-1h-37l-36-2h-11h-10h-19h-18l-10-1h-4l-6-1h-3h-6h1l-10-1h-8l-11-2l-5-2l-3-2l-4-1l1-1l2-2l2-4l4-1l1-2h2l4-1h2l1-1l4 1h1h3l2-1h3l3 1l2-1h2h3h2v-1l5 1h2h2h2l4-1l2 2h1h4l2-1l3 1l3-1l4 1h2l2 1l3-1l4 1h1h1h6h2l2-1l3 1l5 1h1h4l4-1l5 2l3-1l4 1h5h5l5 1h6h7l8 2h7l10-1l7 2h13l13 1h18l18 2l25 2l14 1l27 3h16l25 2l25 2l32 4l25 3l31 1l25 3h16h-31l-39-1l-40-1l-46-2l-21-1h-28l-18-1h-22l-29-1l-25-1h-46l-34-1l-17-1h-14h-16h-7l-14-1h-7h-10h-7l-9-1l-8-1l-10-1l-9-3h-4l-4-2l-3-2v-2l3-2l1-2l8-3h1h2l1-1h4l2-1v1l3-1l2 1h2l3 1l2-1l2-1l1 1l4-1l5 1h3h2h4h2h1h3v1l3-1h5h2l1 1l4 1l3-2l3 1h3h2h2l4 1h3l1-1h3l3 1l1-1l4 2l3-1l4 1l3-1l4 1l4-1h5l4 1h4l6 1l6 1l8-1l9 1l12 1h14h9l14 1l15 2l19 2l25 2h16l17 1l19 2l33 2l29 2l21 2l23 1l22 2l25 3l19 1l-5 2h-21l-42-1l-19-1l-42-1l-38-1l-36-1l-46-1l-37-2h-45h-31l-20-1h-13h-9h-8l-18-1h-8l-5-1h-4h-7l-5-1l-12-1h-5l-10-2l-7-2l-4-3l-1-2l1-2l3-2l4-2l6-2h1l3-1h1h3l1 1h3l3-1h3l1 1h4l2-1l3 1l1-1h2h6h1l2 1l3-1h2h1l3 1h3h3l3 1v-1l3 1l4-1h3l3 1l4-2l3 2h2l3 1h4l2-1l3 1h2l4 1l4-1h4h5l2 1h6l9 1l9-1l4 1l9 1l12-1l5 2h11l8 1l10 1h17l20 2h14l16 2l28 2l31 2l20 3l23 1l26 1l21 3l28 3l26 1l17 1l-27 3l-39-2h-31l-30-1l-30-1l-24-2h-36l-23-1l-37-1h-26l-29-1h-25h-11h-15l-18-1h-10l-19-1h-5l-5-1h-6l-4 1l-5-1l-1-1h-8l-8-2l-9-2l-8-2l-2-3l-1-2v-2l3-1l3-2l3-1l2-1l2-1h2h3h1l1-1l4 2v-2h4l1 1h2h3h2l3-1l3 1h3l2-1l1 1h1l3 1l5-1h3h1l5 1h2h3h1h3h3h2h3h2l4-1l1 1l3 1l5-1l2 2h1l4-1h3h4l5 2l3-1h5h2l5 1h6h6l4 2l7-1l11 2h6h13l15 1l8 1l18 1l16 2l14 1l15-1l27 3l26 3l25 1l27 3l24 2l28 3l13 1l31 4l25-2l-46-1l-29-1l-41-1l-34-1l-32-1l-39-1l-37-1l-45-1h-18l-26-1h-17l-9-1l-9 1l-14-2l-13 1l-13-1h-6h-4h-5h-9h-1l-4-1h-3h-7l-2-1h-9l-7-1l-9-1l-8-1l-4-2l-3-1l2-2v-1l1-4l5-2h3h2l4-1l-2-1l4 1v-1h2h4l2 1h1l3-1h3h3l3 1l1-1h1l1 1h3l2-1l3 1l1-1l4 1v-1l4-1l2 2l2-1l1 1h2l4 1h2h3h2h2h3l1-1l3 2l3-1h3h2h3h3l2 1l2-1l3 1h4l1 1l4-2l2 1h7l4 1l4 1h9h8h8l13 1h14h8l21 3l9-1l16 1l21 1l13 2l28 2l24 1l19 2l20 2l33 2l18 1l20 2l28 2l19 2l25 1l-40 1l-37-2l-30-1l-24 1l-35-2l-31-1l-26-1h-33h-17l-31-1l-23-1h-31l-31-1l-16-1h-12l-11 1l-6-1h-2l-8-1l-3 1h-8h-5l-2-1l-3-1l-13-2l-13-1l-8-2l-2-1l-4-3l1-1l1-2l2-2l6-2l1-1h3h3h1h4l3 1l2-1h2h1h1h5l2-1h2l4 1h2h2h2h3h2h1h5l1 1l4-1l3 1h1h2h4h3v1l2-2l5 2l5-1l2 1h4h4l2 1h2h4l3-1l3 1l4 1l4-2l7 2l2-1l5 1l5-1l10 2h9l8 1l10 1l12 1l10-1l10 1l14 1h15l23 2l14 1l19 2l25 2l20 1l25 1l26 3l14 1l26 3l19 2l19 1h-9l-39-1l-39-1l-23-1h-17l-39-1l-39-1l-23-1h-25l-43-2h-43h-7l-13-1h-10h-16l-22-1h-6h-8l-5-1h-6l2-1l-8 1l-7-2l-9-1l-10-1l-4-4l-2-1l1-2l2-2l5-2l3-1h1h2l2-1h3h2h1l3-1l2 1h1l2 1l2-1h3h1l1 1l4-1l3 1h2l1-1h4h2h2h4l2 1l3-1l3 1h3h3h2l3 1v-1l5 1h3h1h3l4 1h1l3-1l4 1h2h4h4h3h3h3h7l6 1h8l9 1h9l12 2l8-1l12 1h13h10l17 2l22 2l23 1l17 1l25 3l28 2l15 1l17 2l15 2l27 1l24 2l17 1l28 1l-43-2h-18l-45-1l-17-1h-17l-30-1l-37-2h-42l-22-1l-38-1h-44h-17l-16-1h-17l-17-1h-5h-4h-6h-6l-5-1l-5-1h-8l-13-1h-8l-7-2l-4-2v-2l-1-2l2-1l3-2l2-1l1-1h2h3h2h5l2-1l1 1l3-1l3 1l3-1l1 1h4h4l3-1l4 1v-1l4 1l1 1l3-1h1h6h4h2h4h3l4 1l1-1l3 2l2-1h2h3l5 1l1-1h4l4 1l2-1l4 1l3-1l3 2l5-1l5 1l5-1l7 2h7h8h10h7l12 2h14h9l14 2h19l22 2h22l21 1l26 3l17 1l22 1l30 4l32 1l30 4h17l-14 3l-35-2l-44-1l-40-1l-28-1l-35-1l-26-1h-16l-33-1h-40l-24-1h-15l-16-1h-16h-17l-11-1h-5h-6h-4h-7l-7-3l-7 1l-11-1l-8-1l-6-1l-3-1l-2-3l-1-1v-1l2-2l6-3l4-1h1h3h3l2-1l1 1l1 1h5h1l2-1h2h4l1 1h4h2l2-1h2l3-1l1 2l3-1h3h3l3 1h1l3-1l2 1h3h4h1l2 1l4 1l3-1l4-1h3l3 1l5-1l3 3l1-2l4 1h1l5-1l6 2h5h7l9 1h7h9h6h4l8 2l7-1l16 2l13 1h17l16 1h12l18 3h24l30 3l28 2l28 2l28 3l21 1l21 2l2 3l-28-2h-24l-21-1h-18l-18-1l-26-1h-22l-36-1l-42-1h-15l-31-1l-26-1l-26 1l-16-1l-21-1h-11h-6h-4h-4h-3l-8-1h-3h-5l-5-1l-12-1l-5-1l-4-1l-10-1l-6-2l-2-3l-2-1l1-1l2-2l3-2h1h2l2-1l1 1v-2l4 1l2-1l2 1l1-1l2 1l2-1l3 1h3h3l2 1l3-1l1-1l5 1l2-2l3 1l2 1l2-1l3 1h3h4l4 1v-1h4l2 1h4h4l2 1h5l3-1h1l3 2l4-1h5l4 1l4-1h2l5 1h5l6 1h5h6l8 1h8l10 1h11l10 1l13 1h7l19 1l20 2l24 1l14 1l26 1l26 3l17 2l19 1l32 3l24 1l34 3l30 1h-37l-40-2l-39-1l-19-1h-16l-42-2h-38l-46-1l-40-1h-34l-17-1h-15h-11l-12-1h-17h-5l-5-1h-6h-7l-8-2l-11-1l-12-1l-9-2l-5-2l-2-1l1-3l3-3l2-1h-1l2 1l3-2h1l1 1h3h1l3-1h3h1h1h3h3l3 1l2-1h2l4 1h1h1l2-1h3l3 1l1-1l3 1l4-1h3l2 1l2-1h5l2 2h2h4l2-1h1h1h5v1h4l1 1l5-1l3 1l3-1l4 1h3h5h3l6 1l8 1l6-1l5 1h9l12 1h13h8l11 1l17 1h15l10 2h12l25 2h25l15 2l20 1l19 2l28 2l22 1l28 3l15 2l27 1h-25h-21l-42-1l-37-1l-32-2l-43-1l-41-1l-33-1h-34l-15-1h-40l-13-1h-11h-15l-5-1l-4 1h-6l-9-1h-4l-3-1h-7l-10-2l-8-1l-7-1l-4-2l-1-1l-2-3l1-2l6-2l3 1l1-1h1h2l1 1h4l2-1h1l1-1l3 1h1h3h2h1h3h2l2-1l3 1h4h2h4h3h1h3l3 1h1h4l3-1l3 1h3h4l1 1h3h3h2h3h3l5-1l3 1l3 1h3h6l4 1l6-1l4 1l7-1l10 1l9 1h12l12 1l16 1l11 1l10 1l12-1l14 2h16l27 2l33 2l33 2l25 4l27 1l24 2l12 3l-32-1h-29l-26-1l-30-1l-30-2l-20 1l-26-1l-33-1l-35-1h-26l-38-1h-19l-9-1h-18h-3h-6h-5h-7l-5-1l-9-2l-11-1l-10-1l-5-1l-9-2l-2-3v-2l-1-1l8-2h3l2-1h1l4 1l5-1h1h3h3h2h3l2 1l3-1h2h2l2 1l2-1h3h2h5l3 1h2l2 1h2l4 1l4-1l1-1h4l3 1l4 1l1-1h5l2 1l5 1h1h4h3h3l6 1h6l3-1l7 1l8 1l8-1l5 1h6l9 1h12h14l12 2h14l17 2h13l22 3l29 1l25 1l25 3l31 2l29 3l25 1l34 2l-31-1l-35-1l-20-1l-34-1l-37-1l-32-1h-20l-38-1l-31-1l-26-1h-41h-12h-8h-12l-20-1h-5h-6l-9-1h-7l-6-2l-8 1l-8-1l-10-3l-6-1l-5-2l-1-2v-2l6-3h1l2-1l2 1h3h2h3h2l1-1h4l3 1l1-1l5 1l4 1l3-1h2h3h2l2-1l1 1l3 1l4-1l3 1h3l2-1h3l5 1l2 1l4-1l1 1l4-1l2 1l4-1h2h4l2 2l4-1h4l5 2l5-1h7h5l5 1l9-1l9 2h11l6 1h7l15 1h13l17 1l14 2h23l24 2h13l34 3l27 1l19 2l20 2l15 1l16 1l24 1l24 3l-41-3l-24-1h-20l-43-1l-42-2h-17l-30-1l-42-1l-21-1h-23h-35l-10-1l-22 1l-14-1l-17-1h-5h-7l-5-1l-7 1l-6-1l-4-1l-11-1l-13-1l-10-1l-3-2l-2-2l1-2l1-1l1-1h2h2l3-1h2h1l2 1h1l2-1h3v1l3-1l3-1l3 1h4h2l3 1l4-1l3 1l2-2l3 1h3l5 1h2h3l2 1v-1l6 1h2l4-1h3l3 1h4h3l4 1h3l4-1l3 1l5-1l3 1h7l7 1l6 1h10l5-1l8 2h13h10h13l10 1l13 3l21-1h12l15 1l26 2l25 2l31 2l19 2l30 2l13 1l31 1l-20 2h-18l-35-2l-36-1l-29-1l-43-1l-22-1h-24h-25l-27-1l-41-1h-9h-9l-21-1l-17-1h-8h-10l-5-1h2l-16-2l-10-1l-7-1l-3-1l-3-3l3-3l2-1h3h3v1l3-1h2h1h3h2l2-1l1 1h3h3h3h2l1 1l2-1h4h1h2l5 1h4h1h2h2l3 1l5-1h1l4 1h4h1h3l6 1l2-1l1 1h4l2-1h3l3 1h3l7 1l5-1h2h4h5l7 2h10h11h10l16 2h8l10 1h9h12l16 2l22 1l23 1l29 2l18 1l21 2l22 1l33 3l33 2l-25-1l-33-1l-35-1l-16-1h-24l-27-1h-36l-24-1l-46-1l-44-1h-9h-20l-8-1h-22l-3-1l-4 1l-3-1l-7 1l-6-1h-6l-5-2h-6h-8l-9-2h-8l-3-2l-1-1l-4-3l3-2h2l2-1l2 1l3-1h1h4h3h3l2-1l3 1h4h2l2 1l3-1h2h3l3 1l1-1l5 1h1h3l1 1h3h4h3h1l4-1l2 1l2 1l4-1h3l4 1l4-1v1l5-1l1 1h4h5h3l5 1h5h3l6-1l8 1h9l10 1h10l14 1l14 1h13l17 1l15 2h16l21 1l22 1l23 2l29 1l25 3l30 1l28 3l-27 1l-40-1l-23-1h-20l-18-1l-41-1h-26l-21-1l-31-1h-35l-19-1h-10h-16h-9l-20-1h-7h-6l-8-1h-5h-7l-4-1l-12-1l-12-2l-11-2l-3-2l-2-3l6-2h1h3h2h1l2 1l1-1h1h2h2h3h4v1l2-1l3 1l4-1h1h4h1h1h3l2-1l3 1h3h3l2 1h4h2h4l2 1l4-2l2 1l2 1l3-1l3 1l3-1h5h4l1 2l1-1h6l4 1h2l3 1h7h8l5-1l9 2h8l9 1h14h10l8 1l19 1l19 1l17 1h11l25 2l25 1l20 3h25l26 4l27 1l36 1l-48-2l-32-1h-36l-22-1l-21-1l-46-1h-25l-37-1l-24-1l-36-1h-21l-10 1l-9-1h-6h-4h-4l-2-1l-5 1h-3l-4-1h-8l-2-1l-12-2h-6l-8-2l-5-1l-4-3h1v-2v-1l3 1h1l3-1l1 1l1-1l4 1l4-1v1l4-1h2h2l2 1l3-1l2 1l5-1h2h2h1h2l3 1l2-1l3 1h2l3-1l3 1l2 1l4-1l2 1h1h4l4-1l3 2h3l2-1l5 1l4-1l4-1l2 1l3 1h2h5h5l4 1l6 1h5h6h5l11-1l12 1l14 1h9l19 1l20 1l23 1l23 2l19 1l17 1l27 1l31 2l34 3l17 1l19 1l-14 2h-35l-20-2l-37-1l-34-1l-19-1h-43l-37-2h-19h-21l-26-1h-8h-22h-10h-21l-6-1l-2-1l-4 1h-9l-3-1h-8l-2-1l-12-2h-8l-8-1l-5-2l-4-2l1-3v1h1v-1l1-1l1 1l2-1l4 1v-1l3-1l2 1h1h3l3 1l2-1h2l1-1l1 1h2h3h2l2-1l3 1h3h3h3l2 1h3l1-1l2 2l5-1l4 1h2h2h4h4h1l5-1l4 2l3-1h3h3h4h1l4 1h3h4h7l8 1h6h8l11 1l12 1h9l10 1h18l12 1h13h11l16 2l23 1l16 2h19l25 3h22l24 1l24 3l18 1l-18-2l-20-1l-39-1l-41-1l-21-1l-38-1h-24l-19-1h-41l-32-1h-13h-9h-9h-15l-13-1h-10h-7l-6-1l-4 1l-9-1l1-1l-9-1h-13l-8-2h-4l-3-3h2l-2-1h2h2l2-2l2 1l2-1h3h1l2 1l3-2l1 3v-3l5 1h2v1l3-1h2h4l2 1l3-1h4h1l2 1h4h2h2h3v1l4-1h2l7 1h4h2h1h5h2h2h2h1l4 1h4l5-1h4l4 2l8-1h8l5 2h6l12-1l6 1h12l7 1h7h12l8 1h16l22 2l20 1l24 1l34 2h20l33 3l29 2l11 3l-41-2l-46-1l-16-1l-28-1h-15l-25-1h-38l-36-1l-32-1h-23h-10l-10-1h-20l-6-1l-4 1h-7l-7-1h-9l-3-1l-13-1l-13-2l-7-2l-2-1l2-2l2-1h-1h3h1l4 1v-1v1h6l2-1h2h2h1h4h2h3l2 1l3-2l3 2h2l1-1h1l4 1l2-2l4 1l2 1h1h3h4h4h1l2 1l3-1l4 1h2h3l3-1h3l4 1h4l4 1h4h4h6l4 1h9h6l7 1l7-1l11 1h12h9l18 2h11h9h15l22 2l26 1l24 2l16 1l34 3h15l30 2l-4 1l-40-2l-41-1l-20-1h-20l-30-1l-38-1l-19 1l-39-2h-26l-17-1l-20 1l-14-2l-5 1h-2l-6-1h-3h-4h-9h-4h-3l-4-1l-12-2l-8-1h-5h-8l-3-4h1l1 1v-1l2-2l3 1h5h1l3-1l2 1l2-1h2l3 1l1-1h1l3 1l4-1h1h1l2 1h4l1-1l4 1h4h2l3-1l3 1h4l3 1l4-1l1 1h3h3l2 1h2l3-1l5 1h3v1l6-1l3 1h4h4l4-1h6l8 1l7 1h6h6h10l16 1l8-1l15 2l13 1l12-1l23 1l20 2h17l26 2l24 2l26 1l16 2l32 1l-37 1l-31-1l-22-1h-23l-44-2h-24l-38-1l-23-1h-36h-23l-8-1h-8h-13l-5-1h-8l-7 1l-7-1l-5-1h-5l-10-2l-12-1l-3-1l-7-1l-1-3l-1 1l1-2h2h1l2-1l2 1h1l3 1v-1l2 1l4-2l2 2l2-1l4-1v1h6h1h1h3h3h3l2-1l4 1h4v1h4h2h2l6 1l1-1h3l5 1h1h4l4-1v1l6-1l3 2h5l4-1l5 1h3h3h1h10l4 1l6 1h6h10h7l6 1h11h14l12 1l10 1l20 1l11 1h13l23 2l28 1l28 1l22 2h17l22 2h-16l-19-1l-29-1l-38-1l-19-1l-46-1h-16h-33l-41-1h-15h-10l-17-1h-10h-9l-8-1h-5h-4h-6h-7h-6l-5-2l-11-1l-10-1l-9-2l-2-1h-2l1-1h-1l1-1h2l2-1l1 1h3l1-1h3l2 1v-1l3 2l3-2l2 1h4h4l3-1h2l2 1h4h2h2h3h2l3 1h4h2l1-1h3h3l2 1l4-1l2 1h2h1l5 1l3-1l4 1h4h5h4l3 1l5-1l7 1h5l6 1l7-1l6 1h12l12 1h11l17 1l14 1h20l10 2l17-1l23 1l22 2l17 1l28 1l29 2l9 1l-39-1l-33-1l-40-1l-18-1h-45l-39-2l-20 1l-28-1h-19h-14h-12l-8-1l-5-1l-7 1l-3-1h-2h-7l-3-1h-9l-10-1l-9-1l-9-2l-4-1l1-1v-1h1l3-1l1 1h3h2h2h3l2 1h1l4-1h1h4h2h2h2h4h2h3l3 1l2-1l6 1h1h2h3h4h3h3l4 1l3-1l4 2l3-1h6h4h4l8 1h3h7h6h6l9 1h6h13l10 1l14 1h14h15l17 1h22l22 2l29 2l29 2h17l27 3l14-1l-32 1l-42-1l-34-1l-22-1h-23l-23-1h-44l-28-2h-39h-13h-15h-10l-5-1h-7h-6l-4-1l-6-1h-8l-13-1l-9-2v-1l-1-1v-1h1l1-1l3 1l3-1h3h2l2 1l2-1l1 1l4-1l3 1h3l1-1h3h5h2h4l5 1h5l3 1l6 1l4-1h1l6 1l5-1h1l5 1l4-1l2 1h6l3 1l4-1l5 1l7-1l9 2h5l14-1l8 1l7 1h11h12l17 1h15l18 2h17l25 1l25 2l15 1l24 1l19 1l12 2h-18l-19-1l-34-2h-23h-35l-44-1l-33-1h-28l-20-1h-14h-14h-14l-8-1h-4l-7-1h-6l-6 1l-2-1l-4-1h-5l-8-1l-7-1l-9-2l-7-3h3v1l3-2l5 1h1h3h4h3l2 1l3-1l3-1l3 1l2 1l5-2l4 1l4 1h4h5h4h5h6h3l4 1h6l5 1l7-1h6l5 1h6l10 1h11l11 1h15l16 1h16h8l19 1h12l16 2l22 1l18 1l21 1l35 2l14 2l-2-2h-27l-21-1l-16-1l-40-1l-37-1h-20l-45-1l-44-1h-21h-8l-11-1h-4h-4h-8h-4l-8-1l-5-2h-14h-10l-5-2l-1-1h1v1l-1-1h6l1-1l4 1h3h3h3l3-1l4 1l3-1l3 1h4l4-1l4 1h6l4 1l4-1h2l7 1h4l2 1l4-1h6l2 1l9-1h2l8 1l8 1l7-1l6 1h6h9h12l15 1l11-1l20 2l14 1h15h16l21 2h25l32 3l25 2l9 1l-23-1l-39-1l-21-1h-46l-24-1l-25-1h-43l-48-2l-16 1l-11-1h-7h-4h-9h-4l-5-1l-12-1l-5-2h-6l-7-3h4h4h4h5h2h4h3l4 1l5-1l1 1l6-1l6 1h4h3h6h5l6 1h6h6h7h3l11 1h8h10l9 1h11h10l12 1l17 1l18-1l27 2l15 1h24l19 3l20-1l33 3h21l-28 1l-29-1l-35-1l-40-1l-38-2h-16h-32l-34-1h-16h-20h-16l-8-1h-5h-4l-3-1l-4 1l-6-2l-11-1l-9-2l-3-1h-1h6h4l4 1l3-1h3l4-1l4 1h4h7l3 1h6h5h7h5h4l7 1h7h7h9l8 1l10-1l4 1l14 1h14h8l19 1h19l25 2h15l25 2h28l24 2l-15-1l-35-1l-24-1h-33l-17-1h-22l-35-1h-21l-9-1l-13 1l-11-1h-7h-11l-7-1l-5 1l-6-1h-6l-4-1l-2-1h-3h-4l-2 1v-1h-2h-2h-1l-3-1h-1h-3l-3-1h3h4h5h3h2h7l5 1h5h9h2h7h4l5 1h6h5h9h7h7l7 1l12 1h11l13-1h12l12 1h17l14 1l20 1h21l23 1l24 1l-7 4l-44-1l-40-1l-42-1l-47-1h-9l-18-1h-18h-5l-8-1h-5h-6h-4l-3-1h-2l-11-1h-1l-1-1l-2-1l-2 1l-1-1l2-1h4h2h9l4 1l7-1l5 1l6 1l6-1h5h6l9 1l7 1l5-1h6h6l5 1h8h10l10 1l12 1h17l14 1h13h16l24 2h16l18 1h17l-13 2l-36-1l-44-1h-24l-38-1h-17l-7-1h-22h-7h-17l-6-1h-5h-3h-2l-7-1l-12-1l-1-1h-2h-1v-1l1-1h4h4h8h5l5 1l7-1l5 1l6 1l6-1h5l8 1h7h10h13l7 1l13 1h7h14h10l21 1l23 1l20 1h16l21 2l-30 1l-32-1l-41-1h-37l-20-1h-17h-17l-16-1h-4l-10-1h-4v-1l-8-1l-3-1l1-1l4-1h5l5 1h6h6l5 1h6h8l10 1h10h6h6h8l8 1h12l14 1l10 1l14-1l15 2h13l16 1h12l20 1l-26-1l-37-1h-32h-25h-10l-20-1l-9 1l-10-2l-10 1l-6-1l-5-1l-7 1h-7l-6-1l-2-1h-1l-3-1h-4l2-1h6h8l7 1h9h2h9l7 1l5-1l10 1h13l8 1l4-1l7 1h9h13l15 1h13l16 1l14 1l22 1l-15-1l-37-1l-44-1l-11 1l-23-1h-8h-8h-6l-11-1h-2l-10-1l-5 1h-7l2-2l-3-1l6 1h3h7h7h3h7l11 1h7l6-1l12 1h11l11 1h8h8h9l16 1h13h10l23 1h-18l-16-1h-30h-44l-19-1l-10 1l-18-1h-3l-8-1h-1h-9l-3-2h-3h8h7h6h8l6 1h8h8h5l8 1h5h11h9l7 1h13h14l11 1h15l19 1l-1-1h-22l-45-1l-14 1l-16-1h-21h-11l-10-1h-7h-4h-6l-10-1v-1h-1h7l5 1l6-1l7 1h10h5h7h8h6h5l7 1h10h10l14 1l10-1l11 1h19l20 2l-45 1l-42-1h-19h-17l-13-1h-4h-5h-8l-4-1h-7h2l-2-1l2-2l6 1h7h7l7 1h7h7h4l9 1h10h11l12 1h11l14 2l14-1" fill="none" stroke="#000" stroke-width="1.75" stroke-linejoin="round" vector-effect="non-scaling-stroke"/></g>
<g clip-path="url(#cb)"><path transform="matrix(2.17695,0,0,-13.48828,-3608.250,24612.050)" d="M2448 1670h-6h-8h-6h-28h-26l-18-1h-17l-23-1l-15-1h-36l-18-1l-30-1h-21h-20l-17-1h-23l-23-1l-20-1l-28-1l-34-1l-11-1h-11l-15-1h-5l-14-1l-6-1h-6l-10-1l-8-1h-3l-4-1h-5l-3-1h-2l-2-1l-2-1h-1l-6-1l-1-1h-1v-1h-2l-3-1l1-1l-1-2l-1-1l1-1h-1v-1l1-1v-1h3l-3-1l4-1l1-1l1-1l3-1v-1l1-1l4-1l-1-1h-1l5-1v-1l2-2l3-1h2l2-1l4-1h2l2-2h2l3-1l2-1h4l3-2h2v-1h7l1-2h3h2l2-1l3-1h1l2-1h3l3-1l6-1l1-1l8 1l-1-2l8 1l6-1l2-1l5 1l2-1l3 1h2h4h2h4h2l3-1l3 1h4h3h4h6h3h2h3h3l2 1h3h4h3h4l3 1h2l6 1h4l5 1l6 1h9l5 1l12 1l8 1l11 1l11 1l14 1l16 2l13 2l12 2l20 3l14 2l14 2l13 2l10 2l12 2l15 3l10 1l16 4l13 4l6 3l8 4l5 3l6 3l9 4l10 4l1 3h-7h-5h-5l-8-1h-9h-32l-29-1l-26-1h-16h-32l-31-2l-32-1h-23l-23-1h-31l-27-1l-18-1l-33-2h-8l-8-1h-14l-13-1h-7h-8l-6-1l-6-1h-6l-6-1h-3h-4l-5-1l-2-1l-4-1h-3l-2-1l-3-1h-2l-1-1l-1-1l-2-1v-1l-2-1l-1-1h-4l3-1l-1-1l1-2l-1-1v-1h1l1-1h1v-1l1-2l-1-1h2l3-1l1-1l1-2l1-1l2-1l2-1l3-1l1-1h2l4-2l3-1h3l2-1l3-1l3-1l2-1h4l2-2h4l5-1l2-1h1l5-1l1-1h3l1-1l6-1h5l2-1h3h1h4h3v1h4l5-1l1 1l3-1l1 1l2-1h2h2h5h3h3h4h4l3 1l4-1h3l2 1h5h1h2h4h1l7 1h7l6 1l8 1l6 1l9 1h6l12 1l12 1l8 1l10 1l15 2l18 2l11 1l12 1l12 2l23 2l7 2l12 1l13 2l17 2l20 3l20 3l15 3l12 1l13 3l17 4l8 2l10 4l9 2l11 4l12 3l5 3h-7h-5h-7h-5h-5h-9h-23l-32-2h-23l-27-2l-28 1l-38-2h-18h-18l-33-1l-22-1h-31l-27-1l-32-2l-30-1h-11l-8-1h-4h-12l-14-1h-6l-7-1h-10l-7-1l-9-1h-5l-2-1h-5l-2-1h-3l-2-1l-3-1h-3l-2-1h-2l-4-2h-2v-1l-1-1l-3-1l-1-1h-1l1-2l-2-1l-3-1h3l1-1l-1-2v-1h1l-1-2h2l2-1h2v-1v-2l2-1l-1-1h2l1-1l2-1l2-1l1-1h3l3-1l5-1l2-1l1-1h4l1-1h3l4-1l3-1l3-1h4l1-1l5-1l7-1l1-1h4l1-1l4-1h3l2-1l4-1l2 1l4-1h4h3h1h3h3h3h2h2h4h4h3h2h2h4h2h3h2l4-1l1 1h5h2h3h3h2h1l5 1l2-1l6 1h6h3h8l7 1l5 1h7l10 2h12l16 2l14 2l20 1l23 3l13 1l15 2l12 1l10 2l8 1l23 3l12 2l21 3l11 2l13 2l12 1l12 2l16 3l15 3l9 4l9 4l10 4l12 4l10 3l2 2h-4h-8h-5h-10h-5l-37-1h-20l-19-1h-18h-22l-31-1l-21-1l-29-1h-34h-31l-26-2l-34-1l-29-1l-26-1h-10l-5-1h-10h-8l-11-1l-13-1l-10-1h-13l-10-1h-2h-3l-5-2l-7-1h-4l-2-1l-6-1v-1h-4l-2-2h-2v-1l-3-2h-3l2-1v-1h-2l-1-1v-1l1-1l1-1l-2-1l5-1l-2-1l1-1h1l1-1l-1-1l2-1h3l-1-1l2-1l-1-1h3l-2-1l4-1l2-1l-1-1h3l4-1l3-1l3-2l4 1l1-1l3-1h2l2-1l4-1h1l3-2h3l3-1l3-1h5l1-1h5l2-1l4-1h3l2-1h4l1-1l3 1h2h4h2h3h3h1h2h4h3l2-1l3 1h4h2l1-1l3 1h4h2h4h3h4h2h3h4l6 1l4-1l7 1h1l6 1h6l9 1l7 1l10 1l11 1h14l9 1l20 2l9 1l25 2l18 2l18 1l24 3l19 2l16 3l15 2l13 1l15 2l8 1l19 3l13 2l15 3l11 3l11 2l8 3l5 3l11 4l12 3l9 3l2 2l-7 1h-7h-8h-8h-5h-22l-25-1h-24l-24-1l-29-1h-23l-28-1h-25l-18-1h-37l-37-2l-35-1l-24-1l-32-1h-10l-8-1l-11-1h-13h-11l-5-1h-8l-10-1l-11-1l-8-1h-4l-3-1h-4h-5l-3-1h-1v-1l-3-1h-4l-2-1l-3-1l-1-1l1-1l-3-2h-1h-1v-1l-1-1l1-1l-1-1l1-1v-2v-1l1-1h3l-1-1l3-1v-1l2-1v-1h1l1-2l3-1v-1h3l1-1l1-1h3l3-1l3-1l4-1l1-1l2-1l5-1h2l2-1l3-1l2-1h5v-1h4l3-2h4l4-1l3-1l2-1l3 1h3h2h2l2-1l3 1h5h5h4h4h3h3h4h2h2h3h2h2h3h1l4 1h2h2h2h2l7 1h3h4h4l5 1l8 1l7 1h7l6 1l8 1l7 1l12 1l12 2l9 1l19 2l18 3l20 3l18 2l21 3l15 2l14 3l12 1l14 3l11 1l9 2l13 2l14 3l10 2l13 2l9 3l9 2l13 4l13 2l5 3h-6h-7h-6h-7h-8l-23-1h-30l-19-1l-20-1h-16h-25l-26-1h-35l-30-2h-22l-26-1l-37-1l-28-1l-11-1l-14-1h-10h-6l-8-1h-8h-6l-13-1h-6l-8-1h-9l-10-1l-6-2h-4l-4-1h-4h-1l-5-2h-2l-4-1l-2-1l-1-1l-1-1h-2l-1-2h-2l-1-1l1-2l-2-1h-1l2-1v-1v-1l2-1l-2-1h3l-1-1l3-1l1-1l-1-1l2-1h2v-2v-1l3 1v-2l2-1h3v-1l4-1l2-1h2l4-1l2-1h3v-1h4l1-1l4-1h2l3-2h3h2l5-1l4-1h2h4l2-1h3h3h4h4h4h1h3l4 1h3l3-1l3 1l3-1h2h2h5l2 1l2-1h4l3 1h3h3l4 1h5h1h4l7 1l5 1h6l5 1l10 1h7l9 2l6 1h8l9 1l16 3l12 1l12 2l22 2l17 2l18 3l14 2l8 2l22 3l11 1l13 3l15 3l14 2l12 2l15 3l14 2l15 3l10 3l8 1l8 2l8 2l8 2h-5l-6 1l-8-1h-5h-8l-35-1l-31-1h-17h-19l-23-1l-24-1h-30l-19-1h-19l-21-1l-39-1h-29l-32-2l-8-1h-8h-8l-9-1h-12l-12-1l-14-1h-6l-9-1h-8l-2-1h-6l-2-1h-5l-4-1l-4-1h-1l-1-1l-5-1l-4-1h-2l2-1l-2-1l-3-1l-1-1l-3-1v-1h1v-2h1l-2-1h2v-2l1-1v-1l1-1v-1h2l-1-1l4-1v-1h-1h2l2-2l2-1l-1-1l4-1l1-1l2-1l3-1l2-1h4l3-1l3-1l1-1l4-1l2-1l3-1h2l3-1h4l1-1l6-2l2 1l4-2l3-1h3l4-1h4h2h3h3h2l2 1l3-1h3l1 1l4-1h2h1h3h2h3h4l3 1l2-1h5h5h3l3 1h2h4h5l3 1h5l2 1h9l4 1l6 1l9 1l3 1h7l10 1l11 1l12 2l9 1l15 2l20 3l10 1l15 2l14 3l12 2l14 2l9 1l15 2l17 4l11 2l17 3l13 1l9 3l8 1l7 2l11 2l6 2l11 3l9 3l8 2l9 2l-9 1h-5l-10-1h-9h-7h-18l-29-1l-22-1h-29l-36-1l-36-1l-37-1h-33l-19-1l-33-1l-23-1l-38-2l-13-1h-10h-6l-9-1l-8-1h-8l-8-1l-15-1h-2l-4-1l-5-1h-2l-3-1h-3l-2-1h-2l-4-2h-3v-1h-1l-4-1l1-1l-1-1l-1-1l-2-1l-1-1l1-1v-2h-1v-1h1v-2l3-1l-1-1v-1h2l-1-1h1l2-1v-1v-1l4-1v-1h1v-1h3l2-1l3-1h1l2-1l4-1l3-1l2-1l1-1h2h3l2-1l3-1l6-1h2l2-1l3-1h2h2h3h2h5h1h2h3h4h2h2h3h2h2h3h3h3h1h4l3 1h3l3-1l2 1h4h2l3 1h4h2h2l7 1h4l6 1l5 1h6l9 1h8l4 1l14 1l15 2l10 1l16 2l16 1l21 2l15 3l14 2l11 1l22 3l19 2l10 2l20 3l13 2l21 3l11 1l8 2l20 3l13 4l14 3l10 2l7 3l9 2h-4h-3h-10h-5h-6h-5l-21-1l-29-1h-22h-32l-32-2h-24h-24l-32-1l-33-1l-29-1l-27-1l-27-1l-12-1h-4h-8l-11-1h-10l-11-1h-6h-10l-11-2h-10h-9l-1-1l-6-1l-6-1l-3-1h-3l-3-1l-4-1h-3l-3-2l1-1h-1l-4-2l-1-1l-1-1v-1l-2-1h1l-2-1l2-1l-2-1l2-2l4-1l-1-1h2l-2-1h3v-1v-1l1-1l3-1l1-1l2-1l1-1l2-1l1-1h2l3-1l4-1h1l2-2h1l2-1h6l1-1l3-1l5-1l2-1l4-1h4l2-2h5h3l2-2h2h2h5h2h2h3h4l1 1l4-1h3h3h3h5h1h3h2h3h3l4 1h2h3h2h3h2h5l3 1h4l6 1h3l6 1h7l9 1l10 1l10 2l14 1l11 1l13 2l15 2l10 2l17 2l19 3l19 2l15 3l18 2l9 2l12 2l10 2l19 3l9 1l12 2l17 3l12 2l11 2l9 3l15 3l7 2l16 4h-6h-7h-6h-10l-9-1h-31l-21-1l-32-1h-20l-31-1h-30l-32-1h-32l-29-2l-29-1l-36-1h-9l-12-1h-10l-12-2h-12h-13l-6-1h-6l-7-1h-8l-8-1h-7l-5-1l-4-1l-5-1h-5h-1l-3-1l-4-1l-4-1l-3-1v-1l-2-1h-2l-1-1l-1-1l-2-1v-1v-1l-1-1h-1h2l1-1v-1l-2-2h1l2-1l2-1v-1l1-1h2l-1-1l3-2l-1-1l2 1v-2h1l1-1h1l3-2h3l3-1l3-1l4-1h1l3-2h1h6l2-2h4v-1h2h3l4-1l1-1l3-1l3 1l1-2h2l5-1h1h4h3l3-1h2h4h4h2h4h4h1h3h4h2h5h2h3h2l3 1h1l4-1l2 1h2h4h2l1 1h7h1h6h3l5 1l7 1h6l6 2h7l10 1h4l8 1l10 1l8 1l11 1l14 1l18 2l15 2l19 3l15 1l13 2l12 2l10 1l17 2l20 3l15 2l11 2l20 3l11 2l12 1l17 4l17 3l5 2l7 3l10 3l15 3l13 4l-9 1h-6h-14h-2l-33-1l-29-1h-15l-30-1l-38-1h-30l-26-1l-38-1h-20l-27-1l-38-1l-31-1l-27-1l-5-1h-13l-10-1h-6h-9l-8-1l-9-1h-8l-12-1l-8-1h-2l-3-1h-5l-2-1l-3 1l-5-2h-3l-3-1l-3-1h-3l-1-1l-2-1l-1-1v-1l-2-1h-1h-2l-1-1v-2l-1-1l-1-1l-1-1h3l-2-1v-1h1v-2l3-1h-1l2-3h3l-2-1l5-2h-1h2l-1-1l1-1l2-1l2-1h3l3-1v-1l4-1l-1-1h4l2-1l4-1l4-1l3-1l4-1l3-1h3l4-2h3l3-1l8-1h2h2h6h1h3h5h2h2h3h5h1h2h2h3h3h4h3h1h4h2l5 1h2h3h3l4 1h2h6l6 1h3l8 1h5h7l6 1l12 2l13 1l12 1l11 1l12 1l13 2l20 2l13 1l12 2l14 1l13 3l12 1l11 2l14 2l18 2l20 3l13 3l10 1l13 1l13 3l17 3l12 4l12 3l12 3l10 2l4 3h-7l-7-1h-7l-7 1l-8-1h-34l-29-1l-19-1l-36-1h-25l-29-2l-28 1l-30-1l-24-1h-19l-18-1l-36-2h-17l-7-1h-14h-8l-13-1l-5-1h-11l-4-1h-9h-8l-10-1l-9-1l-5-1h-3l-4-1l-3-1l-3 1l-4-1l-1-1l-2-2l-3 1l-2-2l-1-1l-4-1l2-1h-2l-1-1l-1-1h1l-1-2h2l-2-1l2-2h1l-1-1v-1h2l-1-1l1-1l4-1v-1h1v-1h3l-1-1v-1l4-1v-1l1-1h5l1-1l4-1h1l3-1l2-1l2-1l1-1h2l3-1h2l1-1l3-1l2-1l3 1l1-1l4-1l2-1l3-1h2h1h3h3h2h4h2h3h2h4l2-1l2 1h3h4h3v1l3-1h4l3 1h2h2h4h2h1h2h3l2 1h4h3h3h3l3 1h4l6 1l3 1h8l7 1h11l10 1l11 1h7l18 1l10 2l20 1l16 2l18 1l17 2l20 2l16 2l17 2l20 2l21 3l21 2l15 2l15 3l13 2l18 3l9 4l10 3l7 2l8 2l14 4l6 3l-4 1h-8h-6h-11h-6l-36-1l-35-1h-20l-22-1l-26-1h-21l-38-1h-31l-31-1l-25-1l-27-1l-18-1h-23l-33-2h-10h-9l-4-1h-15l-6-1l-11-1l-12-1l-14-1l-4-1h-2l-6-1h-2l-3-1l-3-1h-2l-1-1l-3-1l-1-1h-2v-1v-1l-2-1l-2-1h-1l1-2l1-1l-1-1l1-1l2-1l-1-1l1-1v1l3-3l2-1h2l1-1v-1l4-1l-1-1h2h1v-2h2l2-1l3-2h1h2l3-1l1-1l2-1h3l1-2l3 1l2-1l1-1l3-1h4l1-2l2 1l5-2h4h2h1h5h1h2h2h4h2h5h1h5h2h3h3h3h3h3h3h3l5 1h4h2h6l5 1l3-1l4 1h7l5 1h4l10 1l6 1h9l14 2l14 1l14 1l14 1l22 2l13 1l14 2l24 2l10 2l22 2l16 2l22 3l19 3l19 2l17 3h12l15 3l17 4l6 2l10 3l8 2l16 4l9 2l2 2h-6h-10h-9h-6h-29l-16-1h-26h-25l-26-2h-15h-21l-28-1l-20-1h-19l-37-1h-25l-24-1l-28-1l-40-2l-9-1h-10l-10-1h-14l-9-1h-15l-9-1l-10-1h-5l-3-1h-2l-5-1h-1l-5-2h-2h-1l-4-1l-2-1h-3v-1l-3-2h2l-1-1l-1-1l-2-1v-1v-1v-1l2-1l-1-1l1-1l2-1l-1-1l3-1l1-1l1-1l2-1l2-1l1-1l2-1h2l-1-2h2h2l3-1l3-1l1-2l1 1l4-2l1-1h3l4-1v-1l6-1v-1l5-1l3-1l2 1h5l3-1v1l5-1h1h3h3h1h5h3h4h1h3h2h1l5 1l1-1l3 1l3-1l3 1h3h3h3l3 1h3h5h5l5 1l5 1h8l7 1l9 1l8 1h10l8 1l10 1l12 2l15 1l19 2l11 2l12 1l12 2l12 2l20 2l23 3l18 2l8 2l12 1l20 3l20 4h11l12 2l14 3l9 2l11 3l8 1l8 2l17 4l5 2h-5h-3h-9h-6h-7h-9l-17-1h-36l-19-1l-17-1l-40-1h-26h-34l-21-1h-23h-19l-26-2l-34-1l-30-1l-13-1h-9h-5l-11-1l-7-1h-10l-11-1h-11h-6l-11-1l-6-1l-2-1h-6h-4l-2-1l-4-2h-1l-3-1h-2l-2-1l-2-1l-2-1l-1-1l-2-1v-1l-1-1v-1h-3l1-1v-1l-1-1h4v-1l2-1v-1l1-1v-1h3l-2-1l3-1l3-1l-1-1h2l1-1l1-1l1-1l2-1l2-1h3l-1-1l2-1h3l2-1l3-1v-1l4-1h3l3-1l2-1l3-1h1l4-2h2l1-1h5h2h4l2 1l5-1h1l2 1h3l2-1h3h4l2 1l3-1h5h2h1h3h2h5h2h3l4 1l2-1h3l3 2l3-1h5h4h3l6 1l5 1h8l8 1h8l7 2h15l15 2l11 1l18 2l20 1l13 2l14 2l23 2l11 1l16 2l25 3l19 3l21 2l23 3l20 3l7 1l14 3l12 3l10 2l9 2l9 2l5 2h-6h-5h-5h-7h-7h-6h-17l-22-1h-34l-30-1h-32l-20-1l-38-1h-16h-28l-22-1l-35-2h-27l-24-1l-9-1h-9h-8l-9-1h-8l-14-1l-8-1l-11-1h-3h-4l-3-1l-4-1l-1-1h-4l-3-1h-3l-5-1v-1l-4-1l-2-2h-2h1l-2-1l-2-1l1-1l-2-1l2-1l-1-1l-1-1v-1h1l2-2l-1-1h2v-1l1-1v-2h2l1-1h-1l3-2h1l3-1l3-1l2-1h2v-1h3h3h4h3l1 1l4-1l5 1l2-1l2 1l3-1h2h3h4h3h2h3l4 1h2l3-1h2l3 1v-1l2 1h4h2h4h6h3h3l5 1h6l6 1h10h8l10 1l9 1h13l17 1l11 1l19 1l25 1l13 2h15l24 3h17l13 2l23 2l21 1l23 2l19 2l14 2l20 3l14 3l20 4l13 3h-11h-6h-8h-8h-28h-23h-25l-24-1l-38-1l-23-1h-24h-24l-32-1l-36-1l-21-1h-22h-22l-8-1l-12-1h-12h-11l-10-1h-11l-2-1h-4l-6-1h-3l-3-1h-3h-4l-4-1l-2-1h-2l-1-1l-4-1h-4v-1l-2-1h-2l-1-1h-1v-1l1-1l-3-1l1-1v-1l-1-1v-1v-1l2-1l1-2l1-1l-1-1v-1l3-1l3-1l1-1h1l4-1l2-1l3-1l1-1h2l3-1l3-1h1l3-1l5-2l2-1h2l4-1l2-1l2 1l2-1h5h1h5h2h1h5l1 1l3-1h1l5 1h1h4h1h4h4l2 1l3-1l3 1h4h2h2h2h3l5 1h3h6l4 1h9l5 1h5l8 1h13l7 1l15 1l17 2l13 1l23 2l19 2l19 2l22 2l16 2l20 2l10 2l12 1l14 1l18 2l19 3l7 3l9 2l11 2l10 2l13 4h-8h-4h-5h-7h-7h-5h-21h-25l-23-1h-26l-34-1h-33l-30-1h-36l-25-1l-37-1l-22-2h-24h-11h-9l-11-1l-12-1h-3l-7-1h-3l-6-1h-4l-4-1h-3l-2-1l-3-1l-3-1h-2l-2-1h-3l1-2l-1-1h-1l1-1l-1-1l-2-1h1l1-2v-1h-2l3-1v-1v-1l2-1l4-1h-4l2-1l2-2h2h1l2-1l3-1l3-1h2h2h2h2h5h4h1h3l4-1l3 1l4-1l3 1h1h3h2h3l4-1l1 1h3h4h3h1h3h4l3 1l2-1h3l5 1h5h6l4 1h9h4l7 1l8 1l13 1h10l15 2h14l12 2l22 1l16 1l16 2l14 1l18 2l12 1l20 1l23 3l16 2l20 2l20 2l18 3l10 2l13 2h-6l-6 1h-9h-9l-22-1h-20h-20l-25-1h-28l-37-1h-34l-18-1l-25-1h-35l-29-1l-25-1l-8-1h-13h-6h-4l-12-1h-6h-3l-6-1h-3l-5-1h-2l-4-1h-2h-3l-4-1l-2-2h-3l-3-1v-1h-2l-1-1l-1-1v-1v-1l1-1l-1-1v-1h-1l1-1l1-1l-1-1l3-1h1l1-1l-1-1l2-1l1 1l2-2l2-1h3l2-2h3v-2h4l3-1l2-1h1l1-1h2v-1h4h5h4h2h2h3h3h3h2h4h2h2h3h4h1h3h3h2l4 1h2h2h2h4h3h4h2h5l4 1h6l7 1h8h10l9 1l11 1l15 1l16 1l17 1l14 1l18 1l13 2l14 1l23 2l17 1l17 2h11l19 2l22 2l15 2l13 1l18 3l10 2l11 3l12 2l13 3h-5l-10 1h-7h-9h-30l-36-1h-23h-32h-18l-34-1h-22l-37-1l-36-1l-33-1h-30l-34-1l-9-1h-8l-8-1h-8l-7-1h-2h-6l-5-1l-4-1h-3h-1l-3-1l-5-1l-3-1l-4-1l1-1h-3l1-1l-1-1l-2-1l-1-1l1-1v-2l1-1h-1l1-1l2-1h-1l1-2l3-2h2l3-1h2h1l2-2l4-1l3-1l2-1h2l2-1l2-1h4h1h3h4h4h4h1h4h3h2h4h4h1h5l2-1h2l4 1h3h5h2l5 1v-1h3l6 1h4l5 1h5h4l5 1h11h5l9 1h8l15 2l15 1l20 1l13 1l17 2l22 2l18 1l23 3l18 1l22 3l16 1l12 2l14 2h10l18 4l14 2l17 3l7 1l-10 1h-6h-8h-7h-8h-30h-23l-26-1h-26h-17l-33-1l-36-1l-32-1l-18 1l-32-2h-28l-33-1h-7l-10-1h-8h-9l-7-1l-4-1l-4 1l-3-2h-7l-3-1l-2 1l-4-1l-2-1h-1h1l-5-1l-2-2l-1-1h-1h-3l3-1l-2-1l-1-1l-1-1h1v-1v-2v-1h1v-1l1-1l1-1l2-1l2-1l3-1l2-1l2-1h2l4-1l3-2h2l5-1l2-1l1-1l4-1l3-1h4l5-1h4l4-1l4-1l2 1h4h2h4h1h2h4h3h3h6h3h4h2h2l3 1h1l4-1v1h2h6h1h3h3l2 1h4h3h4l5 1h2l6 1h5h5l9 1h7l9 2h6l10 1l18 1l13 1l12 1l20 3l15 1l18 2l13 2l17 2l14 2l18 2l11 2l16 2l10 2l12 3l15 4l16 4h-7h-7l-8 1h-12l-19-1h-28h-22l-26-1h-21h-31l-22-1h-25l-24-1h-19l-21-1h-24h-17l-7-1h-7h-14h-5l-11-1l-11-1h-6h-7l-3-1h-6h-6l-4-1l-2-1l-4-1l-2-1h-4l-1-1l-1-2l-3 1l1-2l-1-1l-2-1l-1-1l1-1h1l-1-1l1-2h-1l2-1l-2-1l5-1l2-1v-1l1-1h2l2-1l1-1l5-1l2-1l1-1l2-1h5l2-1h3l2-2h5h2h3h3h3h3h2h2h5h3h1l6 1l1-1l3 1l2-1l4 1h5h3h4h1h3h3h5l5 1h3h7l7 1h7l6 1h8l8 1l10 1h7h14l10 1l11 1l25 2l17 1l14 1l17 1l22 2l16 2l23 2l24 2l22 3l18 3l11 2l11 2l16 4h-7h-8h-9h-8h-19h-26h-30l-27-1h-27l-34-1h-18h-23l-29-1l-20-1h-37l-25-1h-10h-7l-12-1h-13h-10h-1l-5-1l-5-1l-4 1l-3-2h-6h-2l-7-1h-2l-3-1l-2-1l-1-1l-4-1v-1l-1-1l-1-1l1-1l-1-1v-1v-1l1-1l1-2h2l-2-1l4-1l1-1h1l3-1v-1l5-1h1l4-2l1 1l2-1l2-1h1l5-1v-1h2l3-1l1-1h4l7-1h3l5-1h2h3h3h3h2h4h3h2h4h2h2h1h3l3 1l2-1h2l5 1h1h3h1h4h3l2 1l4-1v1h4h4l2 1h4h4l6 1h6h3l5 1h7l11 1l11 1h8l15 1l17 2l17 1l14 2l20 2l25 2l8 2l24 1l22 3l20 2l18 3l12 2l10 3l16 3l12 3v1h-3h-7h-9h-8h-10h-35h-35l-31-1l-33-1l-19 1h-39l-35-2l-39-1h-20l-25-1h-10h-8h-11l-11-1h-10l-5-1h-2h-2h-4l-4-1l-5-1h-1h-5l-2-1h-4l-3-1l-2-1h-2l-2-2v-1v-2l-1-1h1l-2-1v-1l2-1l-3-1l3-1v-1h2l1-3h2l4-1h1l1-1l2-1l1-1l4-1h3l1-1l2-1h2h1l3-1h4h2h2h4h3h2h3h2h3h3h4l4-1l1 1h4h1h3h4h2h1h4h2h1h3h1h3l6 1h3h4h2h5h6l8 1l10 1l9 1l15 1h9h8l14 2l13 1l22 1l18 2l15 1l25 3l14 1l16 2l15 2l14 1l22 3l13 2l15 3l9 1l7 2l3 1h-7l-7 1h-9l-10-1h-18h-18h-21h-24l-35-1h-22l-36-1h-16l-30-1h-22h-19l-31-1h-15l-9-1l-10-1h-14h-5h-3l-2-1h-6h-5l-5-1l-4-1l-3-1h-1l-3-1h-2l-4-2h-2h1l-2-2l1-1h-1v-1l-1-1l1-1l3-1l-1-2h1v-1v-1h2l1-1l4-1l3-1l1-1l2-1l3-1l2-1h1h3l2-1l2-1l1-1l4-1l-1 1l6-2h2l5-1h5l2-1h4h2h2h4l3 1l1-1h5l1 1l6-1h2h2h5l2 1h3l4-1h2h3l2 1h3l1-1h3h2l3 1h3h2h7h1l5 1h3h5l4 1h7h9l5 1h7h6l16 1l12 1l8 1l17 1l19 2l16 1l15 1l15 2l17 2l18 2l22 2l12 1l21 2l19 4l8 2l9 3l14 4l12 3h-8h-9h-7h-7h-11h-22h-25h-19h-31l-24-1h-24l-26-1h-19h-30h-20l-22-2l-22 1l-18-2h-20h-7h-14l-11-1h-8l-4-1l-3 1l-6-1h-4l-6-1h-1l-5-1h-1l-5-1h-3l-2-1l-2-1l-1-2h-2v-1v-1h-2v-1h1l-1-1l1-1l-1-1l1-1l2-2l1-1v-1l2-1l5-1h1l3-1h4h3h4h1h3h6h1h4h3h3h1h3h2h3h3h4h5h3h3h3h1l5 1l1-1h4l2 1h8h6h5h5l9 1h8l12 1h11l11 1h14l23 1l12 1l17 1l22 1l22 2h13l24 2l14 1l26 2l24 2l16 2l11 3l12 2l17 3h-8h-3h-10l-7 1h-6h-32l-37-1h-28l-16-1h-32l-17-1h-32l-33-1h-17h-30h-21l-7-1h-11l-6-1h-13h-8l-13-1l-4 1l-8-1l-6-1h-4l-4-1l-5-1h-4l-4-2h-3l-1-1h-1l-2-1v-1v-1l-2-1l1-1l-2-1h3l-2-1h1l-1-1v-1v-2h2l2-1l2-1l1-1h3l1-1h1l3-1l2-1h3l2-1l4-1l2-1h2h3h2h3l2-1l3 1h2h3h4h2h2h3h5h4h5h1h4h1l2-1l3 1h3h2h4h5h5h4h7l2 1h6l8 1h3h7l10 1l13 1h14l13 1h13l20 2h13l26 2l22 2l18 2l23 2l21 1l19 2l14 1l17 2l11 1l17 4l13 2l13 2l4 2h-8h-4h-8h-8h-10h-23l-30-1h-39h-24l-30-1h-25l-34-1h-39l-39-1h-20l-32-1h-6l-7-1h-8h-12h-6l-6-1h-2h-5l-4-1l-3-1h-6l-2-1l-4-1v-1h-2l-2-1l-1-1l-1-2h-1v-1v-1l1-1l-1-1h1v-2l3-1h1l1-1h1l1-1l-1-1l3-1l3-1h3l1-1l3-1h3l2-1l2-1l3-1h1l2-1l2-1h5h3h2l3-1l2 1h1l5-1h2l3 1h2h3l3-1l1 1l4-1h2l2 1h4h1h5h4l5-1l3 1h2h3l3-1l3 1h4h3l6 1h4h5l7 1h10l13 1l14 1l14 1l10 1l13 1l21 2l24 2l9 1l12 1l21 2l13 1l21 2l21 2l19 3l18 3l20 3l5 1h-4l-8 1h-9h-10h-7l-33-1h-38h-24l-26-1h-28h-24l-17-1h-22l-38-1h-28l-10-1h-10h-9l-12-1h-6h-5h-3h-7h-4l-6-1h-2l-3-1h-4l-4-1h-3l-2-1l-2-1h-3l-1-1v-1l-1-1h-1l1-2h-2l3-1h-1l-1-1l1-1h2l1-1l2-2l3-1l3-1l1-1h4l1-1l5-1h2l2-1l2-1l-1-1l5-1h1l4-1h3h7l-1-1h6h5l3-1l1 1l3-1l4 1l5-1l3 2l2-1h3l4-1h4l4 1l3-1h2l4 1h3l4 1l1-1h3h4h1l4-1h5l4 1h5l7 1h6h10l6 1h8h9l10 1l16 1l17 2l21 2l11 1l26 3l7 2l19 1l15 2l13 3l15 2l9 1l15 4l7 1l20 3l18 4l5 1h-10h-8h-5l-7 1l-6-1l-28-1l-37 1l-23-1h-23h-19h-28l-18-1h-17h-19l-28-1h-22h-19l-17-1h-6h-13l-12-1h-14h-3h-6l-7-2h-6h-4l-5-2l-5 1l-2-1l-3-1l-4-1l-2-1l-2-1l-1-1l1-1l-2-1v-1v-1l1-1l-1-1l3-1l1-1h-1l3-2h4l1-1v-1l3-1l2-1h3l4-1l2-1l2-2l6-1l2-1l1 1l4-2h3l1-1l3 1h2l5-1v2l3-1h2h2h2l6 1l1-1h4l2 1l5-1h3l2 1l3-1l4 1l1-1h3h2l4-1l2 1h1h4h3h6l4 1l6-1l6 1l6 1l7-1l4 1l10 1h12l8 1l14 2l16 1l11 1l22 3l21 1l21 3l23 3l15 2l16 2l17 3l10 1l20 3l17 3l12 2h-6l-6 1h-7h-5h-9h-21l-26-1h-33h-22h-35l-30-1h-25l-35-1l-33-1l-36-1h-11h-4l-7-1l-9 1l-8-1h-6h-6l-4-1h-3h-5l-6-1l-4-1h-5l-4-1h-2l-1-2h-5l2-1l-1-2l-2-1h1v-1h-1l2-1h-1v-1v-1l1-1v-1h-1l3-1l2-1v-1h3l1-1l6-1l1-1l3-1h2l3-1l2-1l3-1h1l1-1l3-1l3 1h3h2l3-1h2h1l4 1l5 1l1-1h4h3h2l2-1v1h6h3h3h5h1h2h2h1h5h2h4l4 1h6h5h7h8l7 1h5l5 1l11 1h11l9 1h10l19 2l21 2l18 1l13 2l16 1l19 3l19 2l13 2l19 3h10l18 3l11 2l12 2l13 2h2l-4 1h-6h-8h-12h-6l-32-1h-23h-36h-29l-37-1l-23-1h-19h-37l-34-1l-17-1h-6h-13l-6 1l-14-2h-6h-5h-6l-3-1h-6h-3h-2l-5-1l-3-2l-6 1l-2-3l-2 1v-1l-2-1v-1l-1-1l-1-1l1-1h-2l1-1h-2v-2h1v-1l1-2h2l-1-1h5l1-1l1-1h2l3-1l3-1l4-1h1h1l2-2h2l4-1h2l1 1l4-1l4-1l1 2h4l2-1l3 1h2l1-1h3l3 1l4-1h2h3h2l3 1l2-1l4 1h3h2l1-1h5l1 1l3-1h1l6 1l3-1h5l5 1h9l6-1l7 1l10 1l10 1l11 1h10l14 2h15l22 3l20 1l24 3l14 1l12 1l18 3l21 1l14 3l9 1l20 3l18 2l22 4h-7h-7h-7h-9h-6h-36h-38h-17l-20-1h-33l-23-1h-39l-26-1l-32-1h-31h-11l-10-1h-9h-8h-3l-3-1l-8 1l-5-1l-5-1h-5l-5-1l-5-1h-1l-3-1h-3l-2-1l-1-1h1v-1l-1-1v-1h-3v-1l1-2h-1l2-2l3-1l-1-1v-1h3l1-2l3-1l2-1h3l2-1h3v-1l3-1h3h2h4h3h1h3h5h1l1-1h5l2 1h1h3h2h5h1l3-1l2 1h2h5l4 1h5h1h1h4h3h2l5 1h3h8l3 1h8h7l9 1l9 1h12l10 1l8 2h17l18 2l17 2l24 2l13 2l13 1l17 3h12l15 3h10l20 3l15 2l18 2l8 2h-8h-5h-8h-5h-3h-6l-21-1h-32h-17h-27l-29-1h-15l-36-1h-28l-29-1h-33l-7-1h-8h-8l-8-1l-7 1l-7-1l-7-1h-3h-2h-6l-7-1h-1l-3-1h-2l-5-1l-3-1l-1-1l-3-1l-1-1l1-1l-3-1l-1-1h3l-2-1v-1l1-1h-2l2-1h1l1-2l3-1l-1-1l3-1l3-1l1-1l5-1h-1l3-1h2l4-1l2 1h2l1-1l5 1l4-1l1 1h4h3h2h3h1h2l1-1l3 1h5h1h4h2h5l2-1l4 1h4l1-1l4 1l3-1l5 1h3h5l7 2l9-1l6 1l7 1h8l13 1l14 1l12 1l18 2l13 1l15 1l24 2l19 2l15 1l18 2l21 2l18 2l25 3l18 2l14 2l3 1h-7h-5h-11h-7h-3h-35l-27-1h-37l-24-1h-34l-20-1h-38l-19-1h-34h-9h-7l-8-1h-6h-12l-12-1h-6l-7-1h-2h-7h-5h-4l-5-1l-3-1l-4-1h-2l-1-1h-2l-4-2h2l-2-1l-2-1l-1-1l3-1l-4-1h1v-1l-1-1h1l1-1h1l1-2l-2-1l4-1h2l4-2h1h5h3h2h4h1l1-1l3 1h1l4-1h3h2h4l4 1l2-1l4 1l2-1h4h3h3l2 1l3-1h2l4 1h3v-1h6l3 1h7h3h7h10l2 1h7l12 1l9 1l16 1l18 2l15 1l20 1l16 2l10 1l21 1l15 2l23 2l26 2l20 1l22 3l17 2l15 2h-8h-7h-11h-7l-17-1l-36 1l-24-2l-19 1l-35-1h-32l-29-1l-29-1h-22h-17h-11l-11-1h-12h-13l-10-1h-7h-2h-4l-6-1h-3l-7-1l-4-1h-5l-2-1l-2-1l-3-1h-2v-1l-2-1h1l-1-1l-1-1v-2h2l-2-1l2-2h-2l2-1h1l2-2h2l4-1h2h2h4h3h4h2h4h2h2l3-1l3 1h3h2l4-1h3l2 1l3-1l1 1h3l2-1l4 1l4-1l2 1h4l2-1h4l2 1h5h5l6 1l2-1l10 1l5 1l6-1l12 1h7l12 2h9l14 1l27 1l22 2l15 1l13 1l23 2l22 2l25 2l12 2l19 2l15 2h-5h-10h-7l-8-1h-39h-25l-29-1h-31h-27l-23-1h-24l-17-1h-31h-10l-11-1h-14h-11l-4-1l-5-1l-4 1h-3l-6-2l-1 1h-3l-6-1h-5l-1-1l-2-1l-3-1l-1-1l-1-1h-3v-1l1-1v-2h1l-1-1l1-1v-1l5-1l2 1l2-1l4 1h4l1-1l3 1h4l2-1h1l4 1l3-1l1 1h2l4-1l3 1h2h3l2-1h4l1 1l4-1h2h5l1 1l4 1l3-1l4 1h8l6 1l3-1l9 1l10 1l7 1l12 1h8l8 1l17 1l23 1l22 2l15 2l20 1l18 2l22 3l20 1l15 2l11 1l10 2h-8h-7h-7l-7-1h-8h-26h-28h-19l-28-1h-22l-33-1l-35-1l-32-1h-9h-7h-7l-11-1h-6h-5h-3h-5l-4-1l-1-1h-5h-2l-6-1h-3l-2-1h-2v-1h-4l-1-1l-3-1h1l1-1l-1-1l-1-1h-1h-1v-3l1 1v-2h1v-1v-1v-1h1l4 1h2l1-1l6 1l2-2l3 1h4h1h4h5h2h4l4 1h2l3-1l3 1l3-1l1 1l3-1l3 1h5h1h3h6l4 1h3h8h7l10 1h8h7l12 2l6 1l11-1l9 1l15 1l17 1l23 1l18 2l11 1l20 1l26 1l22 2l21 2l21 1l13 1l12 2h4h-8h-6h-10h-8h-22l-30-1h-25h-18h-25l-38-1l-33-1h-40l-35-1h-7l-12-1h-7h-12l-1-1l-3 1h-7l-3-1h-2l-6-1h-4l-2-1h-3l-6-1h-1l-1-1l-4-1l-1-1h-2l1-2l-2-1v-1v-1v-1l-1-1h1l3-1h3h1h5h1h3h3h6l3-1l4 1h1h6l1 1l2-2l3 1l1 1l4-1h1l1-1l4 1l3-1l4 1l2-1l4 1h4h4l4 1h6h3h3l9 1l7 1l12 1h10h8l10 1l16 1l13 1l25 2h27l14 2h18l17 1l13 1l20 2l17 1l23 1l8 1h-10h-5h-7h-9h-10h-20l-31-1h-37l-20-1h-18h-27l-25-1l-36-1h-8h-6h-7l-8-1h-11h-11h-8h-8l-2-1h-7h-2l-6-1h-3l-7-1h-4l-2-1l-2-1l-1-1l-2-1l-1-1l-1-1l-1-1v-1l2-1h2l1 1h5l3-1h2h4l3 1l4-1l1 1h4h1h2h3h3l4-1l2 1h4h3h2h4h2h2l2 1h1h5h1h3l6 1l2-1l4 1h9l9 1l12 1l11 1h13l9 1h12l15 2l24 1l13 1l26 1l15 1l13 1l14 1l17 1l26 1l18 1l8 1l-7 1l-6-1h-5l-6 1l-7-1h-20h-37l-38-1h-17h-27l-17-1h-16h-23l-16-1h-25h-14l-6-1l-9-1h-8h-2l-6-1h-5h-3l-6-1h-4h-1l-6-1h-1l-3-1l-4-1l-3-1h-1l-1-1l2-1h-2l-2-2l-1-1h2v-1h3h3h3h2h5h1h3h4h3l5 1v-1h3h2l3 1l2-1h3h3h2h2h2h3h4l2 1h1h3h3h3h2l7 1h2l10 1l7 1h8h12l12 1h12l17 1l11 1h11l18 1l16 1l17 2h14l15 1l19 1l13 1l26 1h11l21 2h-9h-7h-9l-4-1l-10 1l-34-1h-25h-18l-24-1h-24l-39-1h-26h-17l-14-1l-7-1l-7 1l-10-2l-11 1l-9-1l-3 1l-3-1h-5h-7l-2-1l-2-1l-4 1l-4-2h-6l-1-1h-2l-1-1l-1-1l-3-1l-1-1h2l-3-1h3h3l1 1l4-1l3 1l3-1h3l2-1l6 1h1h3h3h2l2 1h2h4l3-1l3 1h4h3h3h2l3 1l1-1l6 1h1l6 1h5h6l7-1l6 2h8h8h9l8 1h7h8l16 1l23 1l23 1l25 2h24l27 2l9 1h-7h-8l-8-1h-9h-17h-31l-36-1h-27l-20-1h-27l-24-1l-8 1l-11-1h-12l-10-1l-5-1l-7 1l-5-1h-4h-2l-5-1l-5-2l-4 1h-3v-2h-3l-1-1h-3l1-2l4 1l3-1l2 1l3-1h2h4h2h3h2h3h1h4h1h5h2l2 1l2-1h2h2h3h1h5h3l4 1l2-1l4 1l3-1h8l3 1h4h6l7 2l8-1l14 1l14 1l16 1l17 1h15l15 1l28 1h16l22 1l13 1l29 1l19 1l18 1l20 1l11 1h-9h-8h-5h-8h-5l-31-1h-27h-36l-24-1h-18l-25-1h-19l-29-1h-34h-7h-13l-13-1l-9-1l-6 1h-4l-2-1h-6h-2l-6-1l-6-1l-4 1l-4-2l-3-1l-2 1l-2-2h-5l1-1v-1h-2l-1-1v-1l1-1v-1l1 1l4-1l5 1h2h1l3-1h1h2h6h1l3 1l4-1h1l4 1l3-1l3 1h3h1l2-1l1 1h2h5l1 1l1-1h5l3 1h2h2l5 1h6h6h4h5h9h9l12 1h11l10 1l22 1h19h18l15 1l18 1l27 1l18 1h22l14 1h16l28 1l17 1l5 1h-7l-8-1h-9l-10 1h-26l-38-1l-30-1h-33h-33l-26-1l-22-1h-30l-31-1h-12h-7h-11h-8l-3-1l-6-1h-2h-3h-4h-7l-4-1h-6l-2-2h-3l-3-1l-2-1h-2l-1-1l1-1v-1h2h3h3h4h3h3h3h5h1h3h3l5-1l2 1h3h5l2 1h2h2h2h4h3h1h3h3l4 1l2 1l6-1h4l7 1l8 1h4l9 1h10h10l10 1h13l17 2l13 1h14l16 2l23 1l17 1l16 1l18 1l18 1l18 2h-7h-8h-7h-5l-11-1h-20h-27l-35-1l-32-1l-18 1l-17-1h-29l-27-1h-9h-8h-11l-7-1h-6h-6l-3-1h-6l-5-1l-2 1l-3-2h-4l-4-1l-1-1h-4h-1l-4-1l-2-1v-1l1-1h-2l-1-1l-2-2l1-1l1-1v-1h4h2h2h4l1 1l2-1l4 1l2-1h2l2 1l5-1h1h7l3 1l3-1h3h3l3 1h2l5-1h3l3 1h3l3 1h5h6l4 1h7h6l9 1h9l13 2h10l11 1l16 2l23 1l22 1l25 2l22 2h14h11l23 3l23 1l11 1l13 1h-8h-5h-6h-10h-6l-37-1h-23h-31l-35-1l-34-1h-20l-19-1l-20 1l-10-1h-12l-12-1h-8h-12l-3-1h-2h-4h-4l-6-1h-3h-5l-4-1h-1l-6-1v-1h-3h-1l-3-2h-3l-1-2h-1v-1l-2-2h1l1-1l-2-1l2-1l-1-1l2-1h2h3h5h1h6h4l3-1h2l3 1h2h3l4-1l4 1h2l3-1l3 1l3-1l2 1h2l2-1h3l4 1l4-1v2h4h5h5l6 1h8l6 1h6l12 1h9l15 2l8-1l22 2l13 1l23 1l15 1l26 2l26 2l23 1l18 2l23 2h11l5 1h-6h-8h-9h-7l-10-1l-35 1l-34-1l-37-1h-25h-26l-30-1l-30-1h-10l-13-1h-11h-7h-12l-6-1h-5l-5-1h-6h-3l-4-1l-3-1l-3-1h-1h-2l-5-1l1-1l1-1l-3-2v-1v-2l1-1v-1h2h-1l3-2h1l1-1l3 1l4-1l3 1h3h1h4h1h1h3h3h4h1h3l3 1l3-1h4h3h4h3l1-1l5 1h2l1-1l6 1h5h3h1l5 1l10 1h2l10 1h7h8l14 2h9l10 1l15 1l22 1l15 1l18 2l20 1l26 2l24 2l23 2l25 3l13 1l14 1l-6 1h-7h-10h-5l-9-1h-18h-23l-22-1h-18h-37l-32-1h-26l-35-1h-24l-25-1h-9h-11l-14-1l-5-1h-4l-3-1h-5h-2h-7l-3-1l-2-1l-3 1l-2-1l-2-2l-1-1l-1-1h-2l-2-1l2-1h-2l-1-1l2-1v-1l2-2l1-3h2l4-1h-1l1-1l2 1l3-1h5h2l3 1l2-1l3 1l1-1h3v1l5-1l2 1l1-1h3h3l2 1l3-1l4 1h1h4l2 1l5-1l1 1h5h1h3h5l2 1l5 1l3-1h4h6h7l6 2h11l8 1l9-1l10 1l8 1l15 1h22l13 2l26 1l21 2l22 2l21 2l20 1l18 1l23 2l24 2l14 1l-6 1h-6h-9h-6h-7l-26-1h-24l-27-1l-31 1l-34-1h-17l-35-1l-24-1h-36h-29l-9-1h-6l-6-1l-10 1l-9-1h-7l-3-1h-7h-6h-4l-1-1l-5-1h-3l-3-1l-4-1l-1-1l-2-1h1l-2-1l-1-1l-1-1h2l-2-1l1-1v-1l2-1l-1-1h1v-1l-2-1l4-1h1l2-1v-1h4h2l3-1h2l3 1h1l4-1l2 1l5-1l4 1h2h4h4l2-1l5 1l1-1l2 1h3l3-1l4 1l7 1l1-1h3h2l2-1l5 1l4 1l7-1l8 1h7h6l4 1h15l9 1h12l15 1l22 2l22 1l14 1l17 1l21 2l14 1l20 3l22 1l14 2l19 1l20 3l15 1l16 3h-5h-8h-6h-10h-4h-18h-25h-20l-19-1h-19h-33l-31-1h-18h-25l-23-1h-32h-24l-12-1h-8l-11-1h-6h-7v-1h-5l-6-1l-6 1l-3-1h-2l-3-1h-3l-5-1l-2-1l-5-1v-1v-1l-1-1l-2-1v-1l1-1h-1l1-1v-1l1-1l-1-1h2v-1h-1l2-1l4-1v-1h3l1-1l3-1h1l3-2l2 1h3h3h1h5h2h3h2h2l2 1l4-1h1h2h1l4 1l3-1h1h7h2l2 1h4h3h1h4h3l2 1h4h3h4l7 1h4h7l10 1l7 1h12l11 1l12 2h10h15l10 2l16 1l23 2l22 1l12 1l14 2l24 2l18 1l12 1l13 1l19 2l18 2l12 1l-7 1h-8h-10h-7h-36l-33-1l-30-1l-24 1l-17-1h-35l-18-1h-23l-37-1h-21l-11-1h-11h-10l-10-1h-14h-6l-5-1h-2h-8l-3-1h-1l-5-1h-5l-1-1h-3l-2-1l-1-1l-4-1v-1v-1l-1-1h4l-3-2v-1v-1l1-1l1-1h2l-1-1h2l3-1l3-2l2-1h2l3-1h1l3-1v-1v1l2-1h1l4 1l4-1h3l1 1h5l1-1h5h2h2h4h2h4h2h6l2 1l5-1h2h3l3 1l3-1l1 1l6-1h2l7 1l4-1l5 2l7-1h8l7 1l11 1h13l17 2l19 1l21 1l15 2l21 1l17 1l12 1l23 2l11 1l16 2l26 2l19 2l22 2l12 2l7 1h-6h-8h-8h-4h-7h-27h-31h-33l-34-1h-20l-33-1h-14l-38-1l-29-1h-24h-9h-8h-7l-8-1h-9h-7h-5l-7-1h-5l-5-1h-6h-5l-5-1h-3l-2-1h-2l-3-2h-4h3l-2-1l-1-1h-1l1-2h-1l1-1h-1l1-1l-1-1l3-1v-1l1-1l5-1l1-1l3-1h3l3-2h4l2-1l1-1l4 1l1-1l2 1h4h2h3h4l4-1h4v1l4-1l2 1l2-1h2l4 1l3-1h3l2 1h4h3h1l7-1l2 1l3-1l4 1l4-1l5 1l6 1h8h11l4 1h11l10 1l8 1l16 1h17l16 3l20 1l18 2l20 2l20 2l18 2l19 2l15 2l13 1l10 2l14 2l20 3l6 1h-8l-10 1l-8-1l-5 1l-18-1h-32l-30-1l-17 1l-23-1h-25h-22l-25-1h-18h-15l-31-1l-33-1h-11l-12-1l-10 1l-10-1l-7-1h-2l-4 1l-7-1l-5-1h-2l-6-1h-1l-1-1l-3-2h-3l-1-1h-1v-2h-1l1-1v-1h-1l1-2v-1h1v-1l1-1l1-2h3l4-1v-1l4-1h1l1-1h4v-1l1-1l5-1h-1l2-1h2v-1h3h3h2h3l2-1l4 1h2h4h3h4h3l2-1l1 1h3h4l3-1l3 1h2l1 1l2-1h4h1l5 1h3l4 1l2-1l4 1h5h4h6l7 1h6l11 2l9-1l9 1h14l10 2l11 1l16 2l17 1l16 1l10 2l22 2l10 1l22 2l18 2l21 3l10 2l20 2l15 2l12 2l-7 1h-6h-8l-5-1l-10 1l-27-1h-22h-28l-28-1h-26h-22l-33-1l-26-1h-19h-26l-20-1l-11 1l-8-1h-9l-14-1h-11h-2h-4h-4l-4-1l-5-1l-3 1l-4-1h-4l-4-1h-2l-5-2h-2l-2-1h2l-4-1l-2-2l2-1l-2-1l1-1h-1v-1v-1v-1h2l-1-1l2-2h2l3-2h2h1l3-1l2-1h2l2-1l2-1l4-1h1l2-1l3-1h1l4-1h4h4l2-1h1h5h3h3l4 1l2-1h5h4h1l3 1h3l4-1h3l2 1l6-1h2h2h3h3l2 1l3-1h3l4 1l5-1h5h9l5 1h9l11 1h12l11 1l12 1l17 1l17 1l26 3l21 3l22 2l15 1l22 4l12 1l20 4l13 1l10 3l20 3l13 2l11 2l-10 1h-5h-9h-8h-6l-26-1h-31h-22h-32l-25-1l-21 1l-35-2h-29h-21l-21-1h-36l-10-1h-7h-9l-7-1h-7h-7h-3l-4-1l-6 1l-3-1h-5h-8l-2-1l-5-1l-3-1h-3l-1-1l-1-1h-4l1-1l-1-1v-1l-2-1v-1l-1-1l-1-1l-1-1l2 1v-2l3-1h-2v-1h2l1-1l2-1h2l-1-1l3-1l3-1l3-1l2-1h4l3-1l3-1l4-1v-1l4-1l4-1h6l5-1h4h2h1l3 1l2-1h3l2-1l3 1l4-1l2 1h3h2h3h2h3h3h2h2h4h4h4h1h1h1h5h2l4-1l2 1h3h5h6h4h7h10l10 1l6 1l13 1l7 1h16l14 2l15 2l17 2l17 1l8 3l20 2l13 2l8 1l14 3l18 3l18 4l13 2l7 2l12 3l6 1h-10h-6h-6h-4h-7h-27h-21h-32l-32-2h-32h-33l-27-1h-19l-38-1l-24-1h-11h-15h-5l-10-1l-4 1l-5-2h-6h-5l-6-1h-4l-3-1h-4h-3l-3-3h-2l-1-1h-3l1-1l-1-1l-1-1h-1l1-2h-1h1l1-3h-1h2l2-1v-1v-1l3-1l3-1v-1h3l2-1l2-1l4-1l3-1l1-1h2h2l2-1l2-2h1h4l3-1h4l3-1h2v1h7h1h4l3-1l3 1l2-1h1h3h2h4h2h4h1h3l3 1l2-1l2 1h1l4-1h4l2 1h4l2-1h2h5h2l6 1h4h3l6-1l3 2h10h7l11 1l8 1l9 1l7 2h20l15 2l18 2l19 3l22 2l11 2l15 3l14 1l12 2l13 3l15 3l9 2l14 3l9 1l-4 1h-9h-8h-7h-6l-33-1h-28l-23-1h-34h-19h-36l-26-1l-34-1h-30h-19l-13-1h-7l-15-1h-8l-6-1l-3 1l-4-1h-3h-4l-7-1l-3-1l-5-1l-4-1h-2h-2l-3-1l1-2h-2v-1l-1-1h-1l-1-1v-1l1-1l1-1l-1-1v-2h3l-1-1l3-1h1l3-2l1 1l1-2h5v-1l6-1h1l2-1l4-1l1-1l4-1h3l1-1h4v1l5-1h3h3h1h4h4l3-1l1 1h5h2h3h2h3h3h3h3h3h3h4v1l4-1h3h4l3-1h4h3l6 1h3h9l9 1h9l7 1l8-1l13 2l12 1l12 1l20 2l21 3l23 3l13 1l21 3l14 2l13 3l15 2l13 2l13 3l16 3l11 2l2 1h-8h-10h-8h-8h-34h-22l-36-1l-34-1h-24h-24h-16l-30-1l-20-1h-15l-32-1h-8h-10h-10h-4l-7-1h-2l-2-1l-6 1l-5-1l-6-1h-2l-8-1l-3-1v-1l-2-1h-2h-2l-1-2h-1v-2l-1-1v-1l-3-1h2l1-2v-1h1l1-1l2-1l2-1h3v-2h5l1-1l3-1l4-1h1l3-1l2-1l1-1h2l2-1h3h2l3 1l1-1h2l2 1l3 1l4-2l4 1h1h4h3h4l2-1l2 1h4l2-1l4 1h3h3h4h3l3 1l1-1l4 1h5l6 1h3l4-1l6 1h6l9 1l9 1l13 1h8l17 2l9 1l13 1l19 2l13 1l14 1l13 2l12 1l23 3l19 2l9 3l14 1l18 2l12 2l12 2h5l-5 1h-10h-6h-7h-12h-20l-18-1h-19h-27h-26l-18-1h-32l-18-1h-23h-16l-18-1h-32l-8-1h-7h-7l-13-1h-5h-2l-2-1l-6 1l-6-1l-4-1h-4l-3-1l-3 1l-1-1l-3-1l-3-1l-4-1h2h-3v-1l-1-2v-1l1-1l-1-1l1-1l-3-1l1-1h3l2-1l-1-1l3-1l4-1v-1h4l1-2l4-1h3v-1l6-1l1 1l2-1h3h2h2h4h4h2l4 1l3-1h4h6h3h3h4h1h2l4 1l1-1h4h1l5 1l1-1h5h4l4-1l3 1l5 1h7h9l4 1l8 1h8h10l15 2h17l15 2h11l21 2l20 1l13 2l12 1l21 3l21 1l11 1l15 3l21 1l19 3l18 2l3 1h-5h-8h-11h-4h-5h-38h-16l-18-1h-34h-27l-36-1h-21l-20-1h-17h-32l-33-1l-14-1h-9h-9h-6l-8-1h-5h-6l-6-1h-8l-2-1h-1h-5l-3-1l-2-1h-2l-3-2l-2-1h-1l-2-1l2-1v-1h-2v-2l1-1l1-1l-2-1h4l3-1l3-1l1-1l1-1h5l4-2l2 1h4h4l1-1l3 1l2-1l2 1h6h2h2l3-1l5 1h2h3l1-1h4l4 1h2l2-1l1 1l4-1l3 1h4h3h4h3l5-1l6 1h2h7h9h7l9 1l12 1l16 2h12l12 1l18 1l14 1l14 2l12 1l14 2l15 2l21 2h16l18 4l13 1l17 3l17 2l13 2l2 1h-7h-11h-8h-5h-38l-32-1h-30h-31l-35-1l-31-1h-17l-25-1h-38l-9-1h-6h-8h-9l-11-1h-6l-4-1h-6h-3h-6l-5-1l-6-1l-3-1l-2-1v-1h-2l-1-1l-1-1l-1-1l-1-1v-1l1-1l-1-1h1h-1l-1-1l2-1l2-1l-1-1h2l3-1h2l1-1v-1l4-1h4l2-1v1h3l3-1l3 1h2h3h1l3-1h3l5 1l3-1l2 1l3-1l2 1h3h2h4h2h4h4h2h3l2-1h3l1 1h5l5 1h6l4 1l7 1h5h5l8 1l11 1h14l14 2l18 1l13 1l17 2l18 1l24 3h12l18 1l16 3l24 1l14 2l19 1l14 2l17 2h3h-8h-8h-8h-6h-7h-23l-28-1h-24h-30l-33-1h-25h-29l-20-2l-28 1l-20-1h-14h-13l-14-1l-12-1l-3 1l-4-2l-4 1l-4-1h-5h-3l-4-1l-5-1h-1l-4-1l-3-1h-2l1-1l-2-1l-3-1l2-1l-2-1l-1-2l2-1h1l-3-1h3l-2-1l3-2h1l3-1v-1h3l1-1h3l3 1h4l1-1h5h2l3 1l3-1l4 1l3-1h4l1 1l3-1l3 1l2-1l3 1h4h1h3h3h5h2l2 1h2l7 1h3h4h4l5 1h8h9l12 1l11 2h10h11l12 1l17 1l15 1l21 2l19 1l16 1l20 2l16 1l22 3l24 1l22 3l15 1h-7h-5h-8h-4l-12 1l-37-1l-24-1h-30h-23l-28-1h-24l-21-1h-19h-25l-31-1l-8-1h-14h-12h-2h-6l-3-1h-6l-3-1l-5 1l-5-1l-2-1l-5-1h-1l-3-1h-3l-1-1v-2l-3-1h-2h1l1-2v-1l-1-1l1-1h1l2-2l2-1l3-1l2-1l1 1h2h2h3h3h3h3v-1l2 1h3h2h3h3h2h3h3h2l4 1h4l1-1l2 1h4h1h2h3l1 1h7h7h5h3l9 1l10 2l9-1h5l14 1l9 1h16l20 2l10 1l24 1l16 1l23 2l10 1l23 2l17 1h12l19 2l21 2l17 2l4 1h-6h-6h-7l-5-1h-11h-22h-23l-17-1h-32h-36h-16l-31-1l-19-1h-33l-24-1h-13h-6l-14-1h-10l-5-1l-7 1l-5-1l-4-1h-6h-2h-5l-3-1l-2-1h-3l-4-1l-1-1l-1-1h-2l-1-1l1-1l-3-1v-1l1-1l-1-1l2-1l-1-1h2v-2h3h2h1h3l4 1h2h4l3-1h1l4 1l2-1l1 1l3-1h3l2 1h2l5-1h2h1l3 1l3-1l4 1h3h2l2 1l3-1l5 1l2-1l6 2h1h8h4h8l10 2h6h7l12 1l14 1l12 1l14 1l23 2h16l16 1l11 2l16 1l10 1l18 1l11 1l22 2l13 1l10 2h-7h-12l-4-1h-5h-7h-35h-20l-18-1h-37l-27-1l-27-1l-23 1l-36-2h-9h-8h-6h-7l-12-1h-3h-5h-4h-5l-4-1l-6-1l-4-1l-3-1h-1l-4-1h-1l1-1l-2-1l-3-1h1l1-1l-2-1l1-1v-1v-1v-1l4-1h3h5h1h4h5h3h4h1l2 1l3-1h3h2l4 1l3-1l1 1l1-1l2 1l3-1h2l1 1l5-1l1 1h5h4l2 1h5h4h3l4 1h7h10l5 1h10h7l7 1h12l18 2h15l17 1l23 1l22 2l19 2h23l22 2h17l14 2l13 1l27 1l11 1l-8 1h-10l-7-1h-4h-4h-30l-25-1h-27h-32l-26-1h-19h-27h-24l-26-1h-34l-13-1l-10-1h-5h-12h-2l-5-1h-3h-7l-4-1h-5h-5l-4-1h-2l-4-1l-3-1l-1-1l-2-1v-1h-3v-1l1-1h-3v-1v-2l2-1l3 1h4l3-1l3 1l1-1l4 2l3-1l2-1h4v1h2h2l3 1l2-2h4l2 1h3h3l3-1l2 1h1l4-1l3 2l2-1h4h3h4h4l6 1h4h6l6 1h7l9 1h9l13 1l18 1l22 1l18 1l22 2h13l13 1l23 2h18l24 2l24 2l21 1l14 1l11 1h-10h-8h-5h-5l-5-1l-21 1l-22-1h-27h-34l-33-1l-37-1h-19l-36-1h-23l-7-1h-11h-8h-7l-9-1l-1 1l-5-1h-1h-5l-7-1h-4l-6-1h-4l-3-1l-3-1l-1-1h-5l-1-1v-2h-2l-1-1l1-1h-1l1-1h4l3-1h3h4h4l1 1h3h3l2-1h4l4 1l2-1h3l3 1l3-1l3 1l5-1h2l1 1l2-1h4h6l3 1l5-1l5 1h7h3h9l8 1l5 1h12l7 1l11 1h9l13 1l18 1h16l26 2l11 2l24 1l19 1l17 1l-7 1l-5-1h-7h-9h-8h-18h-25l-29-1l-35-1h-25l-25-1h-24l-7-1l-9 1l-10-1h-8h-1h-6h-6l-4-2h-5h-5l-5-1l-5-1h-4l1-1l-4-1v-1l-1-1h4h3h2h2h3h2l3 1l3-1h1h2h4h2l4 1l2-1h3h3h3h2h1h2v-1l4 1h2h2l2 1h2h3h2h4h4l5 1h3h4h4h7l6 1l7 1l9 1h16l15 1l18 1l22 1l15 1l18 1l27 1l25 2l27 1l25 1l6 1h-8h-9h-9h-10h-20l-36-1l-29-1l-31 1l-19-1l-24-1h-18h-17l-28-1l-12-1h-12h-7h-6l-5-1h-3h-3h-5l-5-2h-4l-2-1h-4l-1-1h-1l-3-2h-2v-1v-1l1-1h-1l4-1h1l2 1l3-1h3l3 1h3h2l3-1l4 1l3-1h5v1l2-1l5 1h4h2h4h2h2l4-1l2 1h2h3l3 1h3h5h2l5 1h5h9l11 1h8h6l11 1l16 1h9l14 1l24 2l18 1l22 1l24 1l27 1l16 1l25 1l8 1h-9h-7h-9h-9h-21l-26-1h-35l-35-1l-29-1h-28h-25l-22-1h-14l-7-1l-9 1l-12-1h-2l-4-1h-4h-6h-5l-3-1h-4l-6-1l-1-1h-3l-1-1h-1l-3-2l-2 1l-2-2l1-1h-2l1-1v-1l1-1h-2h5h3h3h3l5-1l2 1h4h1h3l4-1l3 1h4h2h1l5-1l2 1h5h1h1h4h4h1h4h5h3l6 1h6h4h9l6 1h9l6 1h8l11 1l16 1h14l13 1h14l14 1l20 1l12 1l24 1l18 1l17 2l25 1h14l12 1l12 1l16 1h-8h-4h-7h-8h-7h-24l-27-1h-38h-23l-31-1h-25l-27-1h-26l-30-1h-10h-8l-8-1h-9h-10h-10l-4-1h-4h-3h-3l-7-1l-4-1h-2l-6-1l-2-1h-3h-1l-3-1l-1-1l-2-1l-1-1v-1l-1-1l1-1h-1v-1l1-1h3l1 1l4-1h2l5 1l2-1h2h5l2-1l2 2l3-1h4h2h2l3 1h2l3-1h2l3 1h2h2h4l1 1h3h3h2h2h4l3 1h6h5l9 1l5 1l7-1l7 1l14 2l11-1l10 1l14 1l15 1l24 1l23 2l22 1l21 1l18 2l14 1h12l9 1h-8h-6h-5h-7h-8h-36l-24-1l-22-1h-28h-21l-22-1h-29l-12-1l-7 1l-8-1h-7h-10l-9-1h-6h-5h-6l-4-1h-5l-4-1h-5h-1l-4-1l-3-1l-5-1h-1l-1-2h-1v-1h-1v-1l-1-2h-1l1-1l-2-1h2l2-1h-1l1-1l4 1h2h3l3-1h1l4 1h1h2h4h2h4h4l3-1h2l3 1h4h2h3h2h3h3l4-1l3 1h1h4l2-1l3 2h5h4l9 1l4-1l12 1h7l8 1h7l11 1l14 1l19 1l19 1h18l22 2l16 1l18 1l15 1l17 1l20 1l22 2l14 2l26 1l13 1h5h-10l-6 1l-7-1h-7h-11h-18h-36l-37-1h-15h-21h-31l-22-1h-24l-35-1l-28-1h-13h-5l-7-1h-11l-6 1l-4-1l-6-1h-7l-3 1l-6-2h-6l-4-1h-3l-4-2h-5l2-1h-1h-4l-1-1l-2-1l2-2h-1h-2v-1l1-1l-1-1v-1h-1l1-1l2-1h1l1-1h1h2l1 1h2l3-1h3h4h4h2h3h4h4h1h3h3h2h3h3h3l2 1h4h2h4l3 1l1-1l5 1h2h6l3 1h5h4h8l6 1h12h6l8 1l15 1l18 1l23 2h15l13 2l27 1l22 1l23 3h21l18 1l20 1l22 2l24 2h3h-5h-8h-9h-3h-10h-23h-27l-37-1l-31-1h-25h-30l-26-1h-25l-23-1l-28-1h-8h-5h-12h-7l-6-1l-5 1l-5-2h-3h-8h-4l-6-1h-1l-5-1l-1-1v-1l-4-1h-2l1-1h-3v-2l-1-1h2l-1-1v-1v-1l1-1h1l1-1v-1v-1l2-1l2 1l3-2l2 2h3h1l5-1l3 1l2-1h3h2h2h1h3l4 1v-1h5h2h3l2 1l1-1h2h2l3 1l1-1h3l4 1l2-1h3l3 1l4-1l7 1h4l9 2l7-1l11 1h5l12 1h5l11 1h10l17 1l23 2l26 3l15-1l16 2h19l13 2h19l17 3h14l13 1l18 1l21 2l11 1h-7l-9 1l-6-1h-5l-11 1l-22-1h-21h-25l-23-1h-36h-20l-38-1l-28-1h-17h-18h-25l-8-1h-11h-13l-12-1h-5h-5l-4-1h-5h-5l-5-1h-4l-4-1h-6l-1-1l-2-1l-3-1l-1-1h-1v-1l-2-1l-2-1l3-1l-3-1l4-2l-1-1l1-1h3l-1-1l1-1h3l2-1l2 1l1-1l3 1h5l3-1v1l2-1h3l5 1h2l4-1l2 1h3h5l3-1l1 1h2l2-1l5 1h2h3l3 1l2-1l3 1l1-1l2 1h4h3h5l3 1h6h9h4l9 1l7 1l14 1h14l10 1l12 1h13l24 2l16 1l13 1l15 1h12l18 2l18 1l13 1l22 2l14 1l18 1l-10 1h-6h-4h-11l-4-1h-22h-33l-26-1h-29h-19l-30-1h-25l-23-1h-36h-11l-8-1h-9h-13l-8-1h-4h-5l-7-1h-6h-2h-5l-5-1l-4-2l-3 1l-2-1l-2-1l1-1l-2-1l-1-1v-1l1-1v-1l-1-1l2-1h1v-1l1-1l1-1l3-1h3h2l2 1l3-1h3h2h5l5 1l3-1h2h5l2-1l4 1h3v-1l4 1h3h3h2l2-1l3 1h3h1h3h2h5h4h6h3h6l8 1h10h12l12 2h10h14l18 2l12 1l18 1l25 3l21 1l18 2l14 1l24 3l20 2l11 1l19 2l13 2l13 1l8 2h-4h-9h-5h-4h-10h-6l-27-1l-19 1l-37-1l-30-1h-33l-23-1h-33l-35-1l-24-1l-8 1l-11-1h-12h-9h-12l-1-1h-5l-4-1l-4 1l-5-1h-4h-4l-3-1h-3l-1-1l-5-1h-3l-1-2l-2-1h1l-1-2h-1l1-1h-1l1-1l-1-1v-1l1-1h-1l1-1l1-1l2-1h1l3-1v-1l2-1l2-1l3-1h3h2l1-1h5l4 1l2-1h2l4 1h2l3-1h5h2h2h5h3h4h2l2 1h2l2-1h4h3h2h4h3h3l3 1h6l3-1l6 1l6 1h7l6-1l8 2l6 1h13h13l11 1l16 1l13 1l24 2l15 1l20 3l12 1l19 1l13 2h9l16 2l15 1l16 3l17 2l21 2l16 2l-5 1h-11h-10h-5h-4h-19h-19l-26-1h-39l-23-1h-31l-36-1h-32h-31l-25-1h-18l-14-1h-12h-15l-7-1h-3l-5-1h-6h-4l-4-1h-5l-5-1h-1l-5-1l-2-1l-2-1h-4h1l-1-2h2l-3-1l-1-1v-2h1l-1-2h-1h2l-1-1l2-1v-1h2v-1l2-1l1-1l3-1l4-1l3-1l4-1l3-1h3h3h4l1 1l1-2l3 1l3-1h2h4h2l4 1l2-1l3 1h4l3-1h3l2 1l4-1l3 1h3l1-1h3l2 1h2h3h4l2 2h6l3-1h5l4 1h7l7 1h10l7 1l15 1l13 1l17 1l16 2l12 1l22 2l14 1l25 2l14 1l10 2l12 1l12 2l19 2l17 2l11 1l12 2l16 2l7 1h-10h-7h-8h-5h-27h-24l-27-1h-24h-24h-30l-33-2h-34l-24-1h-36h-10l-7-1h-12h-9l-9-1h-5h-6h-5l-2-1h-6l-3-1l-3-1h-6v-1l-5-1v-1h-3l-1-2h-1v-1l-2-1v-2v-1l1 1l-2-2l3-1h1v-1v-1l1-1l5-1l1-1l3-1v-1l3-1h1h5l1-2h3l1-1l1-1h1h5h2l1 1l4-1h3h3h6h1h5h2h2l4 1h1l2-1h2l2-1l3 1h1h6h4l4 1h2l1-1l4 1h3h3h5l4 1h4h2h9h7h6l10 3l15-1l15 1l12 1l16 2l22 2l10 1l19 1l18 2l15 2l11 1l11 1l9 1l14 2l15 1l9 1l22 3l15 3l13 2h-5h-6h-4h-9h-6h-22l-39-1l-35 1l-18-1h-20l-21-1h-36l-24-1h-37l-34-1l-8-1h-15h-8h-14h-4l-4-1h-4h-6l-5-1h-6h-3l-5-1l-5-1h-2l-2-1l-2-1l-2-1v-1h1h-2v-2l-1 1v-2v-1l1-1h-1l1-2l2-1l-1-1l3-1h1l2-1l1-1h1l1-1h4l2-1l3-1l3-1l2-1l3-2l2 1l2-1l2-1l3 1l3-1h2l4 1l1-1l4 1h2h1l5-1l1 1l3-1h1h4l4 1h3l2-1h2h4h1h4l2 1l4-1h1h4h2h2h6l1 1l7-1l5 1h4h6h8l11 1l7 2l9-1l13 1l13 1l13 2l17 1l12 1l20 2l17 2l21 1l18 3l17 2l9 2l17 2l17 2l20 3l17 3l15 2l-9 1h-6h-5h-9h-8h-22h-18l-27-1h-22l-34-1h-25h-18h-19l-27-1l-36-1h-21l-36-1h-7h-14h-7l-5-1h-4h-6l-5-1h-4l-6-1h-4h-2l-3-2h-3l-4-1h-1l-2-1l-1-1h-1l1-2l-2-1v-1l-1-1l1-1l1-1l-2-1l4-1v-1l-1-1h6l2-2l2-1h2h3l1-2l4-1h1l3-1l2-1l3-1l3-1h5l2-1l5-1h3h2h2l3 1l4-1h3h2l2 1l3-1l3 1h2h5l1-1h2l4 1h5h3h1h3l4-1l1 1h3h1h4l1-1l7 1h2l4-1h6h6l5 1h6l9 1h12h7l11 1l10 1h13l19 3l19 2h11l12 2l21 3l16 1l21 4l11 2l19 2l19 4l10 2l12 2l10 2" fill="none" stroke="#000" stroke-width="2.15" stroke-linejoin="round" vector-effect="non-scaling-stroke"/></g>
<g stroke="#000" stroke-width="4.0" fill="none" stroke-linecap="butt"><path d="M294.10 108.10V1214.00"/><path d="M292.10 1212.00H1875.60"/><path d="M820.60 1212.00v21.40M1522.60 1212.00v21.40M469.60 1212.00v10.60M1171.60 1212.00v10.60M1873.60 1212.00v10.60M294.10 1028.35h-23.30M294.10 661.05h-23.30M294.10 293.75h-23.30M294.10 1212.00h-12.60M294.10 844.70h-12.60M294.10 477.40h-12.60M294.10 110.10h-12.60"/></g>
<g stroke="#000" stroke-width="5.0" fill="none" stroke-linecap="butt"><path d="M292.85 1906.08V3033.30"/><path d="M290.35 3030.80H1967.25"/><path d="M292.85 3030.80v20.50M850.15 3030.80v20.50M1407.45 3030.80v20.50M1964.75 3030.80v20.50M571.50 3030.80v10.80M1128.80 3030.80v10.80M1686.10 3030.80v10.80M292.85 2858.15h-24.00M292.85 2512.85h-24.00M292.85 2167.55h-24.00M292.85 3030.80h-12.00M292.85 2685.50h-12.00M292.85 2340.20h-12.00M292.85 1994.90h-12.00"/></g>
<g fill="#000">
<text transform="scale(1.0455,1)" x="111.96" y="319.05" font-family="'Liberation Serif','Times New Roman',serif" font-weight="bold" font-size="88.60">650</text>
<text transform="scale(1.0455,1)" x="111.96" y="686.35" font-family="'Liberation Serif','Times New Roman',serif" font-weight="bold" font-size="88.60">640</text>
<text transform="scale(1.0455,1)" x="111.96" y="1053.65" font-family="'Liberation Serif','Times New Roman',serif" font-weight="bold" font-size="88.60">630</text>
<text transform="scale(1.0566,1)" x="710.23" y="1317.00" font-family="'Liberation Serif','Times New Roman',serif" font-weight="bold" font-size="88.60">800</text>
<text transform="scale(1.0529,1)" x="1379.91" y="1317.00" font-family="'Liberation Serif','Times New Roman',serif" font-weight="bold" font-size="88.60">900</text>
<text transform="scale(1.0816,1)" x="102.40" y="2191.75" font-family="'Liberation Serif','Times New Roman',serif" font-weight="bold" font-size="88.50">650</text>
<text transform="scale(1.0816,1)" x="102.40" y="2537.05" font-family="'Liberation Serif','Times New Roman',serif" font-weight="bold" font-size="88.50">640</text>
<text transform="scale(1.0816,1)" x="102.40" y="2882.35" font-family="'Liberation Serif','Times New Roman',serif" font-weight="bold" font-size="88.50">630</text>
<text transform="scale(1.0986,1)" x="199.53" y="3135.60" font-family="'Liberation Serif','Times New Roman',serif" font-weight="bold" font-size="88.50">700</text>
<text transform="scale(1.0832,1)" x="718.73" y="3135.60" font-family="'Liberation Serif','Times New Roman',serif" font-weight="bold" font-size="88.50">800</text>
<text transform="scale(1.0794,1)" x="1238.02" y="3135.60" font-family="'Liberation Serif','Times New Roman',serif" font-weight="bold" font-size="88.50">900</text>
<text transform="scale(1.0819,1)" x="1725.81" y="3135.60" font-family="'Liberation Serif','Times New Roman',serif" font-weight="bold" font-size="88.50">1000</text>
<text transform="scale(1.0721,1)" x="341.50" y="1408.50" font-family="'Liberation Serif','Times New Roman',serif" font-weight="bold" font-size="85.80">the potentials of platinum electrode(mV)</text>
<text transform="scale(1.0867,1)" x="284.41" y="3218.40" font-family="'Liberation Serif','Times New Roman',serif" font-weight="bold" font-size="87.30">the potentials of platinum electrode(mV)</text>
<text transform="translate(69.80,1401.30) rotate(-90) scale(0.9378,1)" x="-1.07" y="0" font-family="'Liberation Serif','Times New Roman',serif" font-weight="bold" font-size="71.50">the potentials of bromide selective electrode(mV)</text>
<text transform="translate(70.80,3149.80) rotate(-90) scale(0.9400,1)" x="-1.09" y="0" font-family="'Liberation Serif','Times New Roman',serif" font-weight="bold" font-size="72.60">the potentials of bromide selective electrode(mV)</text>
</g>
<rect x="10" y="0" width="90" height="45.2" fill="#fff"/>
<rect x="360" y="1330" width="87.5" height="40.6" fill="#fff"/>
<g fill="#000">
<text transform="scale(1.2580,1)" x="23.64" y="35.00" font-family="'Liberation Mono','Courier New',monospace" font-weight="normal" font-size="30.30">YL</text>
<text transform="scale(1.1974,1)" x="326.74" y="1361.50" font-family="'Liberation Mono','Courier New',monospace" font-weight="normal" font-size="31.50">XB</text>
<text y="1661.98" font-family="'Liberation Serif','Times New Roman',serif" font-size="100.56" font-weight="normal"><tspan x="962.58">(</tspan><tspan x="995.57" y="1661.90" font-weight="bold" font-size="102.88">A</tspan><tspan x="1068.34" y="1661.98">)</tspan></text>
<text y="3432.93" font-family="'Liberation Serif','Times New Roman',serif" font-size="100.33" font-weight="normal"><tspan x="965.38">(</tspan><tspan x="999.59" y="3432.80" font-weight="bold" font-size="100.92">B</tspan><tspan x="1066.40" y="3432.93">)</tspan></text>
<text transform="scale(1.1280,1)" x="1348.71" y="1953.40" font-family="'Liberation Serif','Times New Roman',serif" font-weight="bold" font-size="84.50">light</text>
</g>
<path d="M1573.5 1963.8L1450.5 2150.3" stroke="#000" stroke-width="2.1" fill="none"/>
<path d="M1436.4 2171.7L1443.0 2143.2L1459.6 2151.3Z" fill="#000"/>
</svg>
</body></html>
